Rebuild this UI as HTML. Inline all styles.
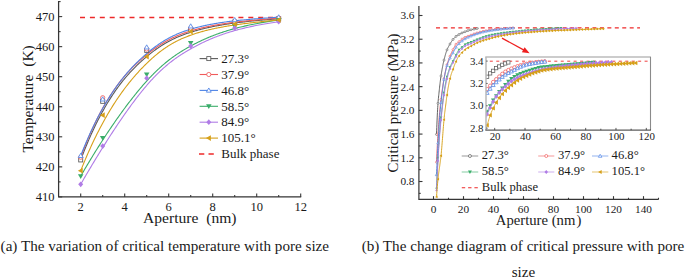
<!DOCTYPE html>
<html><head><meta charset="utf-8"><style>
html,body{margin:0;padding:0;background:#fff;width:685px;height:279px;overflow:hidden}
svg{display:block}
text{font-family:"Liberation Serif", serif;}
</style></head><body>
<svg width="685" height="279" viewBox="0 0 685 279" font-family='"Liberation Serif", serif' fill="#1a1a1a">
<rect width="685" height="279" fill="#fff"/>
<line x1="80" y1="17.5" x2="280" y2="17.5" stroke="#ee2a2a" stroke-width="1.3" stroke-dasharray="5 4.9"/>
<path d="M80.7 159.94 L81.53 157.75 L82.36 155.59 L83.19 153.46 L84.01 151.36 L84.84 149.29 L85.67 147.25 L86.5 145.25 L87.32 143.27 L88.15 141.32 L88.98 139.39 L89.8 137.5 L90.63 135.64 L91.45 133.8 L92.28 131.99 L93.1 130.21 L93.93 128.46 L94.75 126.73 L95.57 125.03 L96.39 123.35 L97.21 121.7 L98.03 120.08 L98.85 118.48 L99.67 116.91 L100.48 115.36 L101.3 113.84 L102.11 112.34 L102.93 110.87 L103.74 109.42 L104.55 107.99 L105.36 106.58 L106.17 105.2 L106.97 103.84 L107.78 102.51 L108.58 101.19 L109.38 99.9 L110.19 98.63 L110.99 97.38 L111.78 96.15 L112.58 94.94 L113.37 93.75 L114.17 92.58 L114.96 91.43 L115.75 90.3 L116.53 89.19 L117.32 88.1 L118.1 87.02 L118.88 85.97 L119.66 84.93 L120.44 83.91 L121.22 82.91 L121.99 81.93 L122.76 80.96 L123.53 80.01 L124.29 79.07 L125.06 78.15 L125.82 77.25 L126.58 76.36 L127.34 75.49 L128.09 74.63 L128.84 73.79 L129.59 72.96 L130.34 72.14 L131.08 71.34 L131.82 70.55 L132.56 69.78 L133.29 69.02 L134.03 68.27 L134.75 67.53 L135.48 66.81 L136.2 66.09 L136.92 65.39 L137.64 64.7 L138.36 64.02 L139.07 63.35 L139.77 62.69 L140.48 62.04 L141.18 61.41 L141.88 60.78 L142.57 60.16 L143.26 59.54 L143.95 58.94 L144.63 58.35 L145.32 57.76 L145.99 57.18 L146.67 56.61 L147.34 56.05 L148.01 55.5 L148.67 54.96 L149.34 54.42 L150 53.89 L150.66 53.37 L151.31 52.85 L151.96 52.35 L152.62 51.85 L153.26 51.36 L153.91 50.88 L154.55 50.4 L155.2 49.93 L155.84 49.47 L156.48 49.01 L157.11 48.56 L157.75 48.12 L158.38 47.69 L159.02 47.26 L159.65 46.84 L160.28 46.42 L160.9 46.01 L161.53 45.61 L162.16 45.21 L162.78 44.82 L163.41 44.43 L164.03 44.06 L164.66 43.68 L165.28 43.31 L165.9 42.95 L166.52 42.6 L167.15 42.25 L167.77 41.9 L168.39 41.56 L169.01 41.22 L169.63 40.89 L170.25 40.57 L170.88 40.25 L171.5 39.93 L172.12 39.62 L172.74 39.32 L173.37 39.01 L173.99 38.72 L174.62 38.42 L175.24 38.14 L175.87 37.85 L176.5 37.57 L177.12 37.29 L177.75 37.02 L178.38 36.75 L179.02 36.49 L179.65 36.23 L180.29 35.97 L180.92 35.72 L181.56 35.46 L182.2 35.22 L182.85 34.97 L183.49 34.73 L184.14 34.49 L184.78 34.26 L185.44 34.02 L186.09 33.79 L186.74 33.57 L187.4 33.34 L188.06 33.12 L188.73 32.9 L189.39 32.68 L190.06 32.47 L190.73 32.25 L191.41 32.04 L192.08 31.83 L192.77 31.63 L193.45 31.42 L194.14 31.22 L194.83 31.01 L195.52 30.81 L196.22 30.61 L196.92 30.42 L197.63 30.22 L198.34 30.02 L199.06 29.83 L199.78 29.64 L200.5 29.45 L201.24 29.26 L201.97 29.07 L202.71 28.88 L203.46 28.7 L204.22 28.52 L204.98 28.33 L205.75 28.15 L206.52 27.97 L207.3 27.79 L208.09 27.62 L208.89 27.44 L209.69 27.27 L210.51 27.09 L211.33 26.92 L212.16 26.75 L212.99 26.58 L213.84 26.41 L214.7 26.25 L215.56 26.08 L216.44 25.91 L217.32 25.75 L218.21 25.59 L219.12 25.43 L220.03 25.27 L220.96 25.11 L221.89 24.95 L222.84 24.79 L223.8 24.63 L224.77 24.48 L225.75 24.33 L226.74 24.17 L227.75 24.02 L228.76 23.87 L229.79 23.72 L230.84 23.57 L231.89 23.42 L232.96 23.27 L234.04 23.13 L235.14 22.98 L236.25 22.84 L237.37 22.69 L238.51 22.55 L239.66 22.41 L240.83 22.27 L242.01 22.12 L243.21 21.98 L244.42 21.85 L245.65 21.71 L246.9 21.57 L248.16 21.43 L249.43 21.3 L250.72 21.16 L252.03 21.03 L253.36 20.89 L254.7 20.76 L256.06 20.63 L257.44 20.49 L258.84 20.36 L260.25 20.23 L261.68 20.1 L263.13 19.97 L264.6 19.84 L266.09 19.71 L267.6 19.59 L269.13 19.46 L270.67 19.33 L272.24 19.2 L273.82 19.08 L275.43 18.95 L277.05 18.83 L278.7 18.7" fill="none" stroke="#5a5a5a" stroke-width="1.1"/>
<path d="M80.7 157.23 L81.53 155.01 L82.36 152.82 L83.19 150.66 L84.01 148.53 L84.84 146.44 L85.67 144.38 L86.5 142.35 L87.32 140.35 L88.15 138.38 L88.98 136.44 L89.8 134.53 L90.63 132.65 L91.45 130.8 L92.28 128.98 L93.1 127.19 L93.93 125.43 L94.75 123.69 L95.57 121.98 L96.39 120.3 L97.21 118.65 L98.03 117.03 L98.85 115.43 L99.67 113.86 L100.48 112.31 L101.3 110.79 L102.11 109.29 L102.93 107.82 L103.74 106.38 L104.55 104.96 L105.36 103.56 L106.17 102.19 L106.97 100.84 L107.78 99.51 L108.58 98.21 L109.38 96.93 L110.19 95.67 L110.99 94.43 L111.78 93.22 L112.58 92.02 L113.37 90.85 L114.17 89.7 L114.96 88.56 L115.75 87.45 L116.53 86.36 L117.32 85.29 L118.1 84.23 L118.88 83.2 L119.66 82.18 L120.44 81.18 L121.22 80.2 L121.99 79.24 L122.76 78.29 L123.53 77.37 L124.29 76.45 L125.06 75.56 L125.82 74.68 L126.58 73.81 L127.34 72.96 L128.09 72.13 L128.84 71.31 L129.59 70.51 L130.34 69.71 L131.08 68.94 L131.82 68.17 L132.56 67.42 L133.29 66.68 L134.03 65.96 L134.75 65.25 L135.48 64.54 L136.2 63.85 L136.92 63.18 L137.64 62.51 L138.36 61.85 L139.07 61.2 L139.77 60.57 L140.48 59.94 L141.18 59.32 L141.88 58.71 L142.57 58.11 L143.26 57.52 L143.95 56.94 L144.63 56.36 L145.32 55.8 L145.99 55.24 L146.67 54.68 L147.34 54.14 L148.01 53.6 L148.67 53.08 L149.34 52.55 L150 52.04 L150.66 51.53 L151.31 51.04 L151.96 50.54 L152.62 50.06 L153.26 49.58 L153.91 49.11 L154.55 48.65 L155.2 48.19 L155.84 47.74 L156.48 47.3 L157.11 46.86 L157.75 46.43 L158.38 46 L159.02 45.59 L159.65 45.17 L160.28 44.77 L160.9 44.37 L161.53 43.97 L162.16 43.59 L162.78 43.2 L163.41 42.83 L164.03 42.46 L164.66 42.09 L165.28 41.73 L165.9 41.38 L166.52 41.03 L167.15 40.69 L167.77 40.35 L168.39 40.02 L169.01 39.69 L169.63 39.36 L170.25 39.05 L170.88 38.73 L171.5 38.42 L172.12 38.12 L172.74 37.82 L173.37 37.52 L173.99 37.23 L174.62 36.95 L175.24 36.66 L175.87 36.39 L176.5 36.11 L177.12 35.84 L177.75 35.57 L178.38 35.31 L179.02 35.05 L179.65 34.8 L180.29 34.55 L180.92 34.3 L181.56 34.05 L182.2 33.81 L182.85 33.57 L183.49 33.34 L184.14 33.11 L184.78 32.88 L185.44 32.65 L186.09 32.43 L186.74 32.21 L187.4 31.99 L188.06 31.77 L188.73 31.56 L189.39 31.35 L190.06 31.14 L190.73 30.94 L191.41 30.73 L192.08 30.53 L192.77 30.33 L193.45 30.13 L194.14 29.94 L194.83 29.74 L195.52 29.55 L196.22 29.36 L196.92 29.17 L197.63 28.98 L198.34 28.8 L199.06 28.61 L199.78 28.43 L200.5 28.25 L201.24 28.07 L201.97 27.9 L202.71 27.72 L203.46 27.54 L204.22 27.37 L204.98 27.2 L205.75 27.03 L206.52 26.86 L207.3 26.69 L208.09 26.53 L208.89 26.36 L209.69 26.2 L210.51 26.04 L211.33 25.88 L212.16 25.72 L212.99 25.56 L213.84 25.4 L214.7 25.25 L215.56 25.09 L216.44 24.94 L217.32 24.78 L218.21 24.63 L219.12 24.48 L220.03 24.33 L220.96 24.19 L221.89 24.04 L222.84 23.89 L223.8 23.75 L224.77 23.6 L225.75 23.46 L226.74 23.32 L227.75 23.17 L228.76 23.03 L229.79 22.89 L230.84 22.75 L231.89 22.62 L232.96 22.48 L234.04 22.34 L235.14 22.21 L236.25 22.07 L237.37 21.94 L238.51 21.8 L239.66 21.67 L240.83 21.54 L242.01 21.4 L243.21 21.27 L244.42 21.14 L245.65 21.01 L246.9 20.88 L248.16 20.75 L249.43 20.62 L250.72 20.49 L252.03 20.36 L253.36 20.24 L254.7 20.11 L256.06 19.98 L257.44 19.86 L258.84 19.73 L260.25 19.6 L261.68 19.48 L263.13 19.35 L264.6 19.23 L266.09 19.1 L267.6 18.98 L269.13 18.85 L270.67 18.73 L272.24 18.6 L273.82 18.48 L275.43 18.35 L277.05 18.23 L278.7 18.1" fill="none" stroke="#f05a5a" stroke-width="1.1"/>
<path d="M80.7 155.73 L81.53 153.62 L82.36 151.53 L83.19 149.48 L84.01 147.45 L84.84 145.45 L85.67 143.48 L86.5 141.53 L87.32 139.61 L88.15 137.72 L88.98 135.86 L89.8 134.02 L90.63 132.21 L91.45 130.42 L92.28 128.66 L93.1 126.92 L93.93 125.21 L94.75 123.53 L95.57 121.87 L96.39 120.23 L97.21 118.62 L98.03 117.03 L98.85 115.46 L99.67 113.92 L100.48 112.4 L101.3 110.91 L102.11 109.44 L102.93 107.98 L103.74 106.56 L104.55 105.15 L105.36 103.76 L106.17 102.4 L106.97 101.06 L107.78 99.73 L108.58 98.43 L109.38 97.15 L110.19 95.89 L110.99 94.65 L111.78 93.43 L112.58 92.23 L113.37 91.04 L114.17 89.88 L114.96 88.73 L115.75 87.61 L116.53 86.5 L117.32 85.41 L118.1 84.33 L118.88 83.28 L119.66 82.24 L120.44 81.22 L121.22 80.21 L121.99 79.22 L122.76 78.25 L123.53 77.29 L124.29 76.35 L125.06 75.42 L125.82 74.51 L126.58 73.62 L127.34 72.73 L128.09 71.87 L128.84 71.01 L129.59 70.18 L130.34 69.35 L131.08 68.54 L131.82 67.74 L132.56 66.95 L133.29 66.18 L134.03 65.42 L134.75 64.67 L135.48 63.93 L136.2 63.21 L136.92 62.49 L137.64 61.79 L138.36 61.1 L139.07 60.41 L139.77 59.74 L140.48 59.08 L141.18 58.43 L141.88 57.79 L142.57 57.16 L143.26 56.54 L143.95 55.92 L144.63 55.32 L145.32 54.72 L145.99 54.13 L146.67 53.55 L147.34 52.98 L148.01 52.42 L148.67 51.87 L149.34 51.32 L150 50.78 L150.66 50.25 L151.31 49.73 L151.96 49.22 L152.62 48.71 L153.26 48.21 L153.91 47.72 L154.55 47.24 L155.2 46.76 L155.84 46.3 L156.48 45.84 L157.11 45.38 L157.75 44.93 L158.38 44.49 L159.02 44.06 L159.65 43.63 L160.28 43.22 L160.9 42.8 L161.53 42.4 L162.16 42 L162.78 41.6 L163.41 41.21 L164.03 40.83 L164.66 40.46 L165.28 40.09 L165.9 39.73 L166.52 39.37 L167.15 39.02 L167.77 38.67 L168.39 38.33 L169.01 37.99 L169.63 37.66 L170.25 37.34 L170.88 37.02 L171.5 36.71 L172.12 36.4 L172.74 36.09 L173.37 35.79 L173.99 35.5 L174.62 35.21 L175.24 34.92 L175.87 34.64 L176.5 34.36 L177.12 34.09 L177.75 33.82 L178.38 33.56 L179.02 33.3 L179.65 33.04 L180.29 32.79 L180.92 32.54 L181.56 32.29 L182.2 32.05 L182.85 31.81 L183.49 31.58 L184.14 31.35 L184.78 31.12 L185.44 30.89 L186.09 30.67 L186.74 30.45 L187.4 30.24 L188.06 30.02 L188.73 29.81 L189.39 29.6 L190.06 29.4 L190.73 29.19 L191.41 28.99 L192.08 28.79 L192.77 28.6 L193.45 28.4 L194.14 28.21 L194.83 28.02 L195.52 27.83 L196.22 27.64 L196.92 27.45 L197.63 27.27 L198.34 27.09 L199.06 26.91 L199.78 26.73 L200.5 26.55 L201.24 26.38 L201.97 26.2 L202.71 26.03 L203.46 25.86 L204.22 25.69 L204.98 25.52 L205.75 25.36 L206.52 25.19 L207.3 25.03 L208.09 24.87 L208.89 24.71 L209.69 24.55 L210.51 24.39 L211.33 24.24 L212.16 24.09 L212.99 23.93 L213.84 23.78 L214.7 23.63 L215.56 23.48 L216.44 23.34 L217.32 23.19 L218.21 23.05 L219.12 22.9 L220.03 22.76 L220.96 22.62 L221.89 22.48 L222.84 22.34 L223.8 22.21 L224.77 22.07 L225.75 21.94 L226.74 21.8 L227.75 21.67 L228.76 21.54 L229.79 21.41 L230.84 21.28 L231.89 21.15 L232.96 21.02 L234.04 20.9 L235.14 20.77 L236.25 20.65 L237.37 20.53 L238.51 20.4 L239.66 20.28 L240.83 20.16 L242.01 20.04 L243.21 19.93 L244.42 19.81 L245.65 19.69 L246.9 19.58 L248.16 19.46 L249.43 19.35 L250.72 19.23 L252.03 19.12 L253.36 19.01 L254.7 18.9 L256.06 18.79 L257.44 18.68 L258.84 18.57 L260.25 18.46 L261.68 18.35 L263.13 18.24 L264.6 18.14 L266.09 18.03 L267.6 17.93 L269.13 17.82 L270.67 17.72 L272.24 17.61 L273.82 17.51 L275.43 17.41 L277.05 17.3 L278.7 17.2" fill="none" stroke="#4f84e6" stroke-width="1.1"/>
<path d="M80.7 176.17 L81.53 174.73 L82.36 173.3 L83.19 171.88 L84.01 170.47 L84.84 169.06 L85.67 167.65 L86.5 166.26 L87.32 164.87 L88.15 163.48 L88.98 162.11 L89.8 160.74 L90.63 159.37 L91.45 158.02 L92.28 156.67 L93.1 155.32 L93.93 153.99 L94.75 152.66 L95.57 151.33 L96.39 150.02 L97.21 148.71 L98.03 147.41 L98.85 146.11 L99.67 144.83 L100.48 143.55 L101.3 142.27 L102.11 141.01 L102.93 139.75 L103.74 138.5 L104.55 137.26 L105.36 136.02 L106.17 134.79 L106.97 133.57 L107.78 132.36 L108.58 131.15 L109.38 129.96 L110.19 128.77 L110.99 127.59 L111.78 126.41 L112.58 125.25 L113.37 124.09 L114.17 122.94 L114.96 121.8 L115.75 120.67 L116.53 119.54 L117.32 118.42 L118.1 117.32 L118.88 116.22 L119.66 115.12 L120.44 114.04 L121.22 112.97 L121.99 111.9 L122.76 110.84 L123.53 109.79 L124.29 108.75 L125.06 107.72 L125.82 106.7 L126.58 105.69 L127.34 104.68 L128.09 103.68 L128.84 102.7 L129.59 101.72 L130.34 100.75 L131.08 99.79 L131.82 98.84 L132.56 97.9 L133.29 96.97 L134.03 96.05 L134.75 95.13 L135.48 94.23 L136.2 93.33 L136.92 92.45 L137.64 91.57 L138.36 90.71 L139.07 89.85 L139.77 89.01 L140.48 88.17 L141.18 87.34 L141.88 86.53 L142.57 85.72 L143.26 84.92 L143.95 84.14 L144.63 83.36 L145.32 82.59 L145.99 81.84 L146.67 81.09 L147.34 80.35 L148.01 79.62 L148.67 78.9 L149.34 78.19 L150 77.49 L150.66 76.8 L151.31 76.11 L151.96 75.44 L152.62 74.77 L153.26 74.11 L153.91 73.46 L154.55 72.82 L155.2 72.18 L155.84 71.56 L156.48 70.94 L157.11 70.33 L157.75 69.72 L158.38 69.13 L159.02 68.54 L159.65 67.96 L160.28 67.38 L160.9 66.82 L161.53 66.26 L162.16 65.7 L162.78 65.16 L163.41 64.62 L164.03 64.08 L164.66 63.56 L165.28 63.03 L165.9 62.52 L166.52 62.01 L167.15 61.51 L167.77 61.01 L168.39 60.52 L169.01 60.03 L169.63 59.55 L170.25 59.08 L170.88 58.61 L171.5 58.14 L172.12 57.68 L172.74 57.23 L173.37 56.78 L173.99 56.33 L174.62 55.89 L175.24 55.46 L175.87 55.02 L176.5 54.6 L177.12 54.17 L177.75 53.75 L178.38 53.34 L179.02 52.92 L179.65 52.51 L180.29 52.11 L180.92 51.71 L181.56 51.31 L182.2 50.91 L182.85 50.52 L183.49 50.13 L184.14 49.75 L184.78 49.36 L185.44 48.98 L186.09 48.6 L186.74 48.23 L187.4 47.85 L188.06 47.48 L188.73 47.11 L189.39 46.74 L190.06 46.38 L190.73 46.01 L191.41 45.65 L192.08 45.29 L192.77 44.93 L193.45 44.57 L194.14 44.21 L194.83 43.86 L195.52 43.5 L196.22 43.15 L196.92 42.8 L197.63 42.44 L198.34 42.09 L199.06 41.74 L199.78 41.39 L200.5 41.05 L201.24 40.7 L201.97 40.35 L202.71 40.01 L203.46 39.66 L204.22 39.32 L204.98 38.98 L205.75 38.64 L206.52 38.3 L207.3 37.97 L208.09 37.63 L208.89 37.29 L209.69 36.96 L210.51 36.63 L211.33 36.3 L212.16 35.97 L212.99 35.64 L213.84 35.31 L214.7 34.98 L215.56 34.66 L216.44 34.34 L217.32 34.01 L218.21 33.69 L219.12 33.37 L220.03 33.05 L220.96 32.74 L221.89 32.42 L222.84 32.11 L223.8 31.8 L224.77 31.49 L225.75 31.18 L226.74 30.87 L227.75 30.56 L228.76 30.26 L229.79 29.95 L230.84 29.65 L231.89 29.35 L232.96 29.05 L234.04 28.76 L235.14 28.46 L236.25 28.17 L237.37 27.87 L238.51 27.58 L239.66 27.29 L240.83 27.01 L242.01 26.72 L243.21 26.44 L244.42 26.15 L245.65 25.87 L246.9 25.59 L248.16 25.32 L249.43 25.04 L250.72 24.77 L252.03 24.49 L253.36 24.22 L254.7 23.95 L256.06 23.69 L257.44 23.42 L258.84 23.16 L260.25 22.9 L261.68 22.64 L263.13 22.38 L264.6 22.12 L266.09 21.87 L267.6 21.62 L269.13 21.37 L270.67 21.12 L272.24 20.87 L273.82 20.63 L275.43 20.38 L277.05 20.14 L278.7 19.91" fill="none" stroke="#3aad6a" stroke-width="1.1"/>
<path d="M80.7 184.28 L81.53 182.84 L82.36 181.41 L83.19 179.99 L84.01 178.56 L84.84 177.14 L85.67 175.73 L86.5 174.32 L87.32 172.92 L88.15 171.52 L88.98 170.12 L89.8 168.73 L90.63 167.35 L91.45 165.96 L92.28 164.59 L93.1 163.22 L93.93 161.85 L94.75 160.49 L95.57 159.14 L96.39 157.79 L97.21 156.45 L98.03 155.11 L98.85 153.78 L99.67 152.46 L100.48 151.14 L101.3 149.82 L102.11 148.52 L102.93 147.21 L103.74 145.92 L104.55 144.63 L105.36 143.35 L106.17 142.08 L106.97 140.81 L107.78 139.55 L108.58 138.29 L109.38 137.04 L110.19 135.8 L110.99 134.57 L111.78 133.34 L112.58 132.13 L113.37 130.91 L114.17 129.71 L114.96 128.51 L115.75 127.33 L116.53 126.14 L117.32 124.97 L118.1 123.81 L118.88 122.65 L119.66 121.5 L120.44 120.36 L121.22 119.23 L121.99 118.1 L122.76 116.99 L123.53 115.88 L124.29 114.78 L125.06 113.69 L125.82 112.61 L126.58 111.54 L127.34 110.48 L128.09 109.42 L128.84 108.38 L129.59 107.34 L130.34 106.32 L131.08 105.3 L131.82 104.29 L132.56 103.29 L133.29 102.31 L134.03 101.33 L134.75 100.36 L135.48 99.4 L136.2 98.45 L136.92 97.51 L137.64 96.59 L138.36 95.67 L139.07 94.76 L139.77 93.87 L140.48 92.98 L141.18 92.1 L141.88 91.24 L142.57 90.39 L143.26 89.54 L143.95 88.71 L144.63 87.89 L145.32 87.08 L145.99 86.28 L146.67 85.49 L147.34 84.71 L148.01 83.94 L148.67 83.18 L149.34 82.43 L150 81.69 L150.66 80.96 L151.31 80.24 L151.96 79.53 L152.62 78.83 L153.26 78.14 L153.91 77.46 L154.55 76.78 L155.2 76.12 L155.84 75.46 L156.48 74.81 L157.11 74.17 L157.75 73.54 L158.38 72.91 L159.02 72.3 L159.65 71.69 L160.28 71.09 L160.9 70.5 L161.53 69.91 L162.16 69.34 L162.78 68.77 L163.41 68.2 L164.03 67.65 L164.66 67.1 L165.28 66.55 L165.9 66.02 L166.52 65.49 L167.15 64.97 L167.77 64.45 L168.39 63.94 L169.01 63.43 L169.63 62.93 L170.25 62.44 L170.88 61.95 L171.5 61.47 L172.12 60.99 L172.74 60.52 L173.37 60.05 L173.99 59.59 L174.62 59.14 L175.24 58.68 L175.87 58.23 L176.5 57.79 L177.12 57.35 L177.75 56.92 L178.38 56.49 L179.02 56.06 L179.65 55.64 L180.29 55.22 L180.92 54.8 L181.56 54.39 L182.2 53.98 L182.85 53.57 L183.49 53.17 L184.14 52.77 L184.78 52.37 L185.44 51.98 L186.09 51.58 L186.74 51.19 L187.4 50.81 L188.06 50.42 L188.73 50.04 L189.39 49.66 L190.06 49.28 L190.73 48.9 L191.41 48.52 L192.08 48.14 L192.77 47.77 L193.45 47.4 L194.14 47.02 L194.83 46.65 L195.52 46.28 L196.22 45.91 L196.92 45.54 L197.63 45.18 L198.34 44.81 L199.06 44.44 L199.78 44.08 L200.5 43.71 L201.24 43.35 L201.97 42.99 L202.71 42.63 L203.46 42.27 L204.22 41.91 L204.98 41.55 L205.75 41.19 L206.52 40.84 L207.3 40.48 L208.09 40.13 L208.89 39.78 L209.69 39.43 L210.51 39.08 L211.33 38.73 L212.16 38.38 L212.99 38.04 L213.84 37.69 L214.7 37.35 L215.56 37.01 L216.44 36.67 L217.32 36.33 L218.21 35.99 L219.12 35.65 L220.03 35.32 L220.96 34.99 L221.89 34.66 L222.84 34.33 L223.8 34 L224.77 33.67 L225.75 33.35 L226.74 33.02 L227.75 32.7 L228.76 32.38 L229.79 32.07 L230.84 31.75 L231.89 31.43 L232.96 31.12 L234.04 30.81 L235.14 30.5 L236.25 30.19 L237.37 29.89 L238.51 29.59 L239.66 29.28 L240.83 28.98 L242.01 28.69 L243.21 28.39 L244.42 28.1 L245.65 27.81 L246.9 27.52 L248.16 27.23 L249.43 26.94 L250.72 26.66 L252.03 26.38 L253.36 26.1 L254.7 25.82 L256.06 25.55 L257.44 25.28 L258.84 25.01 L260.25 24.74 L261.68 24.47 L263.13 24.21 L264.6 23.95 L266.09 23.69 L267.6 23.43 L269.13 23.18 L270.67 22.93 L272.24 22.68 L273.82 22.43 L275.43 22.19 L277.05 21.95 L278.7 21.71" fill="none" stroke="#b07ce6" stroke-width="1.1"/>
<path d="M80.7 170.76 L81.53 168.68 L82.36 166.62 L83.19 164.59 L84.01 162.58 L84.84 160.6 L85.67 158.64 L86.5 156.7 L87.32 154.79 L88.15 152.9 L88.98 151.03 L89.8 149.19 L90.63 147.37 L91.45 145.57 L92.28 143.8 L93.1 142.05 L93.93 140.32 L94.75 138.61 L95.57 136.92 L96.39 135.25 L97.21 133.61 L98.03 131.99 L98.85 130.38 L99.67 128.8 L100.48 127.24 L101.3 125.7 L102.11 124.18 L102.93 122.68 L103.74 121.2 L104.55 119.74 L105.36 118.3 L106.17 116.87 L106.97 115.47 L107.78 114.08 L108.58 112.72 L109.38 111.37 L110.19 110.04 L110.99 108.73 L111.78 107.44 L112.58 106.16 L113.37 104.9 L114.17 103.66 L114.96 102.44 L115.75 101.23 L116.53 100.04 L117.32 98.87 L118.1 97.72 L118.88 96.57 L119.66 95.45 L120.44 94.34 L121.22 93.25 L121.99 92.17 L122.76 91.11 L123.53 90.06 L124.29 89.03 L125.06 88.01 L125.82 87.01 L126.58 86.02 L127.34 85.05 L128.09 84.09 L128.84 83.14 L129.59 82.21 L130.34 81.29 L131.08 80.38 L131.82 79.49 L132.56 78.61 L133.29 77.74 L134.03 76.89 L134.75 76.05 L135.48 75.22 L136.2 74.4 L136.92 73.59 L137.64 72.79 L138.36 72.01 L139.07 71.24 L139.77 70.48 L140.48 69.72 L141.18 68.98 L141.88 68.25 L142.57 67.53 L143.26 66.82 L143.95 66.12 L144.63 65.43 L145.32 64.75 L145.99 64.08 L146.67 63.42 L147.34 62.77 L148.01 62.13 L148.67 61.49 L149.34 60.87 L150 60.25 L150.66 59.65 L151.31 59.05 L151.96 58.46 L152.62 57.88 L153.26 57.31 L153.91 56.74 L154.55 56.19 L155.2 55.64 L155.84 55.1 L156.48 54.57 L157.11 54.05 L157.75 53.54 L158.38 53.03 L159.02 52.53 L159.65 52.04 L160.28 51.55 L160.9 51.08 L161.53 50.61 L162.16 50.14 L162.78 49.69 L163.41 49.24 L164.03 48.8 L164.66 48.36 L165.28 47.93 L165.9 47.51 L166.52 47.1 L167.15 46.69 L167.77 46.28 L168.39 45.89 L169.01 45.5 L169.63 45.11 L170.25 44.73 L170.88 44.36 L171.5 44 L172.12 43.63 L172.74 43.28 L173.37 42.93 L173.99 42.58 L174.62 42.24 L175.24 41.91 L175.87 41.58 L176.5 41.25 L177.12 40.93 L177.75 40.62 L178.38 40.31 L179.02 40 L179.65 39.7 L180.29 39.4 L180.92 39.11 L181.56 38.82 L182.2 38.53 L182.85 38.25 L183.49 37.97 L184.14 37.7 L184.78 37.43 L185.44 37.16 L186.09 36.9 L186.74 36.64 L187.4 36.39 L188.06 36.13 L188.73 35.88 L189.39 35.63 L190.06 35.39 L190.73 35.15 L191.41 34.91 L192.08 34.67 L192.77 34.44 L193.45 34.21 L194.14 33.98 L194.83 33.75 L195.52 33.53 L196.22 33.31 L196.92 33.08 L197.63 32.87 L198.34 32.65 L199.06 32.43 L199.78 32.22 L200.5 32.01 L201.24 31.8 L201.97 31.6 L202.71 31.39 L203.46 31.19 L204.22 30.99 L204.98 30.79 L205.75 30.59 L206.52 30.39 L207.3 30.2 L208.09 30 L208.89 29.81 L209.69 29.62 L210.51 29.43 L211.33 29.24 L212.16 29.06 L212.99 28.87 L213.84 28.69 L214.7 28.51 L215.56 28.33 L216.44 28.15 L217.32 27.97 L218.21 27.79 L219.12 27.62 L220.03 27.44 L220.96 27.27 L221.89 27.09 L222.84 26.92 L223.8 26.75 L224.77 26.58 L225.75 26.41 L226.74 26.25 L227.75 26.08 L228.76 25.91 L229.79 25.75 L230.84 25.58 L231.89 25.42 L232.96 25.26 L234.04 25.1 L235.14 24.93 L236.25 24.77 L237.37 24.61 L238.51 24.45 L239.66 24.29 L240.83 24.13 L242.01 23.98 L243.21 23.82 L244.42 23.66 L245.65 23.5 L246.9 23.35 L248.16 23.19 L249.43 23.03 L250.72 22.88 L252.03 22.72 L253.36 22.56 L254.7 22.41 L256.06 22.25 L257.44 22.1 L258.84 21.94 L260.25 21.79 L261.68 21.63 L263.13 21.47 L264.6 21.32 L266.09 21.16 L267.6 21.01 L269.13 20.85 L270.67 20.69 L272.24 20.54 L273.82 20.38 L275.43 20.22 L277.05 20.06 L278.7 19.91" fill="none" stroke="#d6a019" stroke-width="1.1"/>
<rect x="78.7" y="157.94" width="4" height="4" fill="#fff" stroke="#5a5a5a" stroke-width="0.85"/>
<rect x="100.7" y="99.34" width="4" height="4" fill="#fff" stroke="#5a5a5a" stroke-width="0.85"/>
<rect x="144.7" y="48.56" width="4" height="4" fill="#fff" stroke="#5a5a5a" stroke-width="0.85"/>
<rect x="188.7" y="27.52" width="4" height="4" fill="#fff" stroke="#5a5a5a" stroke-width="0.85"/>
<rect x="232.7" y="20.01" width="4" height="4" fill="#fff" stroke="#5a5a5a" stroke-width="0.85"/>
<rect x="276.7" y="16.7" width="4" height="4" fill="#fff" stroke="#5a5a5a" stroke-width="0.85"/>
<circle cx="80.7" cy="157.23" r="2.1" fill="#fff" stroke="#f05a5a" stroke-width="0.85"/>
<circle cx="102.7" cy="97.73" r="2.1" fill="#fff" stroke="#f05a5a" stroke-width="0.85"/>
<circle cx="146.7" cy="49.05" r="2.1" fill="#fff" stroke="#f05a5a" stroke-width="0.85"/>
<circle cx="190.7" cy="28.02" r="2.1" fill="#fff" stroke="#f05a5a" stroke-width="0.85"/>
<circle cx="234.7" cy="21.41" r="2.1" fill="#fff" stroke="#f05a5a" stroke-width="0.85"/>
<circle cx="278.7" cy="18.1" r="2.1" fill="#fff" stroke="#f05a5a" stroke-width="0.85"/>
<path d="M80.7 153.31L83.12 157.49L78.28 157.49Z" fill="#fff" stroke="#4f84e6" stroke-width="0.85"/>
<path d="M102.7 96.82L105.12 101L100.28 101Z" fill="#fff" stroke="#4f84e6" stroke-width="0.85"/>
<path d="M146.7 44.83L149.12 49.01L144.28 49.01Z" fill="#fff" stroke="#4f84e6" stroke-width="0.85"/>
<path d="M190.7 23.8L193.12 27.98L188.28 27.98Z" fill="#fff" stroke="#4f84e6" stroke-width="0.85"/>
<path d="M234.7 17.49L237.12 21.67L232.28 21.67Z" fill="#fff" stroke="#4f84e6" stroke-width="0.85"/>
<path d="M278.7 14.78L281.12 18.96L276.28 18.96Z" fill="#fff" stroke="#4f84e6" stroke-width="0.85"/>
<path d="M80.7 178.92L83.45 174.17L77.95 174.17Z" fill="#3aad6a"/>
<path d="M102.7 140.75L105.45 136L99.95 136Z" fill="#3aad6a"/>
<path d="M146.7 77.35L149.45 72.6L143.95 72.6Z" fill="#3aad6a"/>
<path d="M190.7 45.79L193.45 41.04L187.95 41.04Z" fill="#3aad6a"/>
<path d="M234.7 28.97L237.45 24.22L231.95 24.22Z" fill="#3aad6a"/>
<path d="M278.7 22.66L281.45 17.91L275.95 17.91Z" fill="#3aad6a"/>
<path d="M80.7 181.4L83.2 184.28L80.7 187.15L78.2 184.28Z" fill="#b07ce6"/>
<path d="M102.7 143.24L105.2 146.12L102.7 148.99L100.2 146.12Z" fill="#b07ce6"/>
<path d="M146.7 75.33L149.2 78.2L146.7 81.08L144.2 78.2Z" fill="#b07ce6"/>
<path d="M190.7 43.17L193.2 46.05L190.7 48.92L188.2 46.05Z" fill="#b07ce6"/>
<path d="M234.7 25.14L237.2 28.02L234.7 30.89L232.2 28.02Z" fill="#b07ce6"/>
<path d="M278.7 18.83L281.2 21.71L278.7 24.58L276.2 21.71Z" fill="#b07ce6"/>
<path d="M77.84 170.76L82.78 167.9L82.78 173.62Z" fill="#d6a019"/>
<path d="M99.84 115.16L104.78 112.3L104.78 118.02Z" fill="#d6a019"/>
<path d="M143.84 56.57L148.78 53.71L148.78 59.43Z" fill="#d6a019"/>
<path d="M187.84 31.62L192.78 28.77L192.78 34.48Z" fill="#d6a019"/>
<path d="M231.84 24.11L236.78 21.25L236.78 26.97Z" fill="#d6a019"/>
<path d="M275.84 19.91L280.78 17.05L280.78 22.77Z" fill="#d6a019"/>
<path d="M58.6 1 V196.9 H301.2" fill="none" stroke="#353535" stroke-width="1.25"/>
<line x1="58.6" y1="196.9" x2="62.2" y2="196.9" stroke="#383838" stroke-width="1.1"/>
<text x="54.6" y="201.2" text-anchor="end" font-size="12.5">410</text>
<line x1="58.6" y1="181.88" x2="60.6" y2="181.88" stroke="#383838" stroke-width="1.1"/>
<line x1="58.6" y1="166.85" x2="62.2" y2="166.85" stroke="#383838" stroke-width="1.1"/>
<text x="54.6" y="171.15" text-anchor="end" font-size="12.5">420</text>
<line x1="58.6" y1="151.82" x2="60.6" y2="151.82" stroke="#383838" stroke-width="1.1"/>
<line x1="58.6" y1="136.8" x2="62.2" y2="136.8" stroke="#383838" stroke-width="1.1"/>
<text x="54.6" y="141.1" text-anchor="end" font-size="12.5">430</text>
<line x1="58.6" y1="121.78" x2="60.6" y2="121.78" stroke="#383838" stroke-width="1.1"/>
<line x1="58.6" y1="106.75" x2="62.2" y2="106.75" stroke="#383838" stroke-width="1.1"/>
<text x="54.6" y="111.05" text-anchor="end" font-size="12.5">440</text>
<line x1="58.6" y1="91.72" x2="60.6" y2="91.72" stroke="#383838" stroke-width="1.1"/>
<line x1="58.6" y1="76.7" x2="62.2" y2="76.7" stroke="#383838" stroke-width="1.1"/>
<text x="54.6" y="81" text-anchor="end" font-size="12.5">450</text>
<line x1="58.6" y1="61.67" x2="60.6" y2="61.67" stroke="#383838" stroke-width="1.1"/>
<line x1="58.6" y1="46.65" x2="62.2" y2="46.65" stroke="#383838" stroke-width="1.1"/>
<text x="54.6" y="50.95" text-anchor="end" font-size="12.5">460</text>
<line x1="58.6" y1="31.62" x2="60.6" y2="31.62" stroke="#383838" stroke-width="1.1"/>
<line x1="58.6" y1="16.6" x2="62.2" y2="16.6" stroke="#383838" stroke-width="1.1"/>
<text x="54.6" y="20.9" text-anchor="end" font-size="12.5">470</text>
<line x1="58.6" y1="1.58" x2="60.6" y2="1.58" stroke="#383838" stroke-width="1.1"/>
<line x1="80.7" y1="196.9" x2="80.7" y2="193.5" stroke="#383838" stroke-width="1.1"/>
<text x="80.7" y="211" text-anchor="middle" font-size="12.5">2</text>
<line x1="102.7" y1="196.9" x2="102.7" y2="195.1" stroke="#383838" stroke-width="1.1"/>
<line x1="124.7" y1="196.9" x2="124.7" y2="193.5" stroke="#383838" stroke-width="1.1"/>
<text x="124.7" y="211" text-anchor="middle" font-size="12.5">4</text>
<line x1="146.7" y1="196.9" x2="146.7" y2="195.1" stroke="#383838" stroke-width="1.1"/>
<line x1="168.7" y1="196.9" x2="168.7" y2="193.5" stroke="#383838" stroke-width="1.1"/>
<text x="168.7" y="211" text-anchor="middle" font-size="12.5">6</text>
<line x1="190.7" y1="196.9" x2="190.7" y2="195.1" stroke="#383838" stroke-width="1.1"/>
<line x1="212.7" y1="196.9" x2="212.7" y2="193.5" stroke="#383838" stroke-width="1.1"/>
<text x="212.7" y="211" text-anchor="middle" font-size="12.5">8</text>
<line x1="234.7" y1="196.9" x2="234.7" y2="195.1" stroke="#383838" stroke-width="1.1"/>
<line x1="256.7" y1="196.9" x2="256.7" y2="193.5" stroke="#383838" stroke-width="1.1"/>
<text x="256.7" y="211" text-anchor="middle" font-size="12.5">10</text>
<line x1="278.7" y1="196.9" x2="278.7" y2="195.1" stroke="#383838" stroke-width="1.1"/>
<line x1="300.7" y1="196.9" x2="300.7" y2="193.5" stroke="#383838" stroke-width="1.1"/>
<text x="300.7" y="211" text-anchor="middle" font-size="12.5">12</text>
<text x="143" y="223" font-size="15.6" xml:space="preserve">Aperture  (nm)</text>
<text transform="translate(32.7 152.6) rotate(-90)" font-size="15.5" xml:space="preserve">Temperature  (K)</text>
<line x1="199.6" y1="58.6" x2="218" y2="58.6" stroke="#5a5a5a" stroke-width="1.1"/>
<rect x="206.8" y="56.6" width="4" height="4" fill="#fff" stroke="#5a5a5a" stroke-width="0.85"/>
<text x="221.3" y="62.8" font-size="13">27.3°</text>
<line x1="199.6" y1="74.5" x2="218" y2="74.5" stroke="#f05a5a" stroke-width="1.1"/>
<circle cx="208.8" cy="74.5" r="2.1" fill="#fff" stroke="#f05a5a" stroke-width="0.85"/>
<text x="221.3" y="78.7" font-size="13">37.9°</text>
<line x1="199.6" y1="90.4" x2="218" y2="90.4" stroke="#4f84e6" stroke-width="1.1"/>
<path d="M208.8 87.98L211.22 92.16L206.38 92.16Z" fill="#fff" stroke="#4f84e6" stroke-width="0.85"/>
<text x="221.3" y="94.6" font-size="13">46.8°</text>
<line x1="199.6" y1="106.3" x2="218" y2="106.3" stroke="#3aad6a" stroke-width="1.1"/>
<path d="M208.8 109.05L211.55 104.3L206.05 104.3Z" fill="#3aad6a"/>
<text x="221.3" y="110.5" font-size="13">58.5°</text>
<line x1="199.6" y1="122.2" x2="218" y2="122.2" stroke="#b07ce6" stroke-width="1.1"/>
<path d="M208.8 119.33L211.3 122.2L208.8 125.08L206.3 122.2Z" fill="#b07ce6"/>
<text x="221.3" y="126.4" font-size="13">84.9°</text>
<line x1="199.6" y1="138.1" x2="218" y2="138.1" stroke="#d6a019" stroke-width="1.1"/>
<path d="M205.94 138.1L210.88 135.24L210.88 140.96Z" fill="#d6a019"/>
<text x="221.3" y="142.3" font-size="13">105.1°</text>
<line x1="199" y1="154" x2="214" y2="154" stroke="#ee2a2a" stroke-width="1.3" stroke-dasharray="5.3 4.2"/>
<text x="221.3" y="158" font-size="13">Bulk phase</text>
<line x1="436" y1="27.8" x2="640" y2="27.8" stroke="#ee2a2a" stroke-width="1.2" stroke-dasharray="4 3.45"/>
<path d="M436.5 134.38 L436.64 130.84 L436.77 127.42 L436.91 124.12 L437.04 120.95 L437.18 117.93 L437.31 115.05 L437.45 112.34 L437.59 109.81 L437.72 107.46 L437.86 105.3 L437.99 103.35 L438.13 101.59 L438.26 99.97 L438.4 98.47 L438.54 97.07 L438.67 95.75 L438.81 94.5 L438.94 93.27 L439.08 92.07 L439.21 90.86 L439.35 89.62 L439.48 88.38 L439.62 87.15 L439.76 85.93 L439.89 84.72 L440.03 83.53 L440.16 82.37 L440.3 81.23 L440.43 80.13 L440.57 79.06 L440.71 78.04 L440.84 77.06 L440.98 76.13 L441.11 75.24 L441.25 74.36 L441.38 73.51 L441.52 72.67 L441.66 71.85 L441.79 71.05 L441.93 70.26 L442.06 69.49 L442.2 68.73 L442.33 67.99 L442.47 67.27 L442.61 66.56 L442.74 65.86 L442.88 65.18 L443.01 64.52 L443.15 63.87 L443.28 63.23 L443.42 62.61 L443.56 62 L443.69 61.4 L443.83 60.81 L443.96 60.24 L444.1 59.68 L444.23 59.13 L444.37 58.58 L444.51 58.05 L444.64 57.52 L444.78 56.99 L444.91 56.48 L445.05 55.98 L445.18 55.48 L445.32 55 L445.45 54.52 L445.59 54.06 L445.73 53.6 L445.86 53.16 L446 52.72 L446.13 52.3 L446.27 51.89 L446.4 51.49 L446.54 51.11 L446.68 50.73 L446.81 50.37 L446.95 50.02 L447.08 49.68 L447.22 49.36 L447.35 49.04 L447.49 48.73 L447.63 48.43 L447.76 48.14 L447.9 47.85 L448.03 47.57 L448.17 47.3 L448.3 47.03 L448.44 46.77 L448.58 46.52 L448.71 46.26 L448.85 46.02 L448.98 45.77 L449.12 45.53 L449.25 45.3 L449.39 45.06 L449.53 44.83 L449.66 44.59 L449.8 44.36 L449.93 44.13 L450.07 43.9 L450.2 43.67 L450.34 43.45 L450.47 43.22 L450.61 43 L450.75 42.77 L450.88 42.55 L451.02 42.33 L451.15 42.12 L451.29 41.9 L451.42 41.69 L451.56 41.48 L451.7 41.27 L451.83 41.07 L451.97 40.87 L452.1 40.67 L452.24 40.48 L452.37 40.29 L452.51 40.1 L452.65 39.92 L452.78 39.74 L452.92 39.57 L453.05 39.4 L453.19 39.23 L453.32 39.07 L453.46 38.91 L453.6 38.75 L453.73 38.6 L453.87 38.45 L454 38.3 L454.14 38.15 L454.27 38 L454.41 37.86 L454.55 37.72 L454.68 37.58 L454.82 37.44 L454.95 37.31 L455.09 37.17 L455.22 37.04 L455.36 36.92 L455.49 36.79 L455.63 36.67 L455.77 36.55 L455.9 36.44 L456.04 36.33 L456.17 36.22 L456.31 36.11 L456.44 36.01 L456.58 35.91 L456.72 35.81 L456.85 35.72 L456.99 35.63 L457.12 35.54 L457.26 35.46 L457.39 35.37 L457.53 35.29 L457.67 35.21 L457.8 35.13 L457.94 35.06 L458.07 34.98 L458.21 34.91 L458.34 34.84 L458.48 34.77 L458.62 34.69 L458.75 34.62 L458.89 34.55 L459.02 34.48 L459.16 34.41 L459.29 34.34 L459.43 34.27 L459.57 34.2 L459.7 34.12 L459.84 34.05 L459.97 33.98 L460.11 33.9 L460.24 33.83 L460.38 33.76 L460.52 33.68 L460.65 33.61 L460.79 33.54 L460.92 33.47 L461.06 33.4 L461.19 33.32 L461.33 33.25 L461.46 33.18 L461.6 33.12 L461.74 33.05 L461.87 32.98 L462.01 32.92 L462.14 32.85 L462.28 32.79 L462.41 32.72 L462.55 32.66 L462.69 32.6 L462.82 32.54 L462.96 32.49 L463.09 32.43 L463.23 32.38 L463.36 32.32 L463.5 32.27 L463.5 32.27 L463.58 32.24 L463.65 32.21 L463.73 32.18 L463.8 32.15 L463.88 32.12 L463.95 32.1 L464.03 32.07 L464.1 32.04 L464.18 32.01 L464.25 31.99 L464.33 31.96 L464.4 31.93 L464.48 31.9 L464.56 31.88 L464.63 31.85 L464.71 31.82 L464.78 31.8 L464.86 31.77 L464.93 31.74 L465.01 31.72 L465.08 31.69 L465.16 31.66 L465.23 31.63 L465.31 31.61 L465.38 31.58 L465.46 31.55 L465.54 31.52 L465.61 31.5 L465.69 31.47 L465.76 31.44 L465.84 31.41 L465.91 31.39 L465.99 31.36 L466.06 31.33 L466.14 31.3 L466.21 31.27 L466.29 31.24 L466.36 31.21 L466.44 31.18 L466.52 31.15 L466.59 31.12 L466.67 31.09 L466.74 31.06 L466.82 31.03 L466.89 31 L466.97 30.97 L467.04 30.94 L467.12 30.91 L467.19 30.88 L467.27 30.85 L467.34 30.82 L467.42 30.79 L467.49 30.76 L467.57 30.73 L467.65 30.7 L467.72 30.67 L467.8 30.64 L467.87 30.62 L467.95 30.59 L468.02 30.56 L468.1 30.53 L468.17 30.51 L468.25 30.48 L468.32 30.46 L468.4 30.43 L468.47 30.41 L468.55 30.38 L468.63 30.36 L468.7 30.34 L468.78 30.31 L468.85 30.29 L468.93 30.27 L469 30.25 L469.08 30.23 L469.15 30.21 L469.23 30.19 L469.3 30.17 L469.38 30.15 L469.45 30.13 L469.53 30.11 L469.61 30.09 L469.68 30.07 L469.76 30.06 L469.83 30.04 L469.91 30.02 L469.98 30 L470.06 29.98 L470.13 29.97 L470.21 29.95 L470.28 29.93 L470.36 29.91 L470.43 29.9 L470.51 29.88 L470.59 29.86 L470.66 29.85 L470.74 29.83 L470.81 29.81 L470.89 29.8 L470.96 29.78 L471.04 29.76 L471.11 29.75 L471.19 29.73 L471.26 29.72 L471.34 29.7 L471.41 29.68 L471.49 29.67 L471.57 29.65 L471.64 29.63 L471.72 29.62 L471.79 29.6 L471.87 29.59 L471.94 29.57 L472.02 29.55 L472.09 29.54 L472.17 29.52 L472.24 29.51 L472.32 29.49 L472.39 29.48 L472.47 29.46 L472.55 29.45 L472.62 29.43 L472.7 29.42 L472.77 29.4 L472.85 29.39 L472.92 29.37 L473 29.36 L473.07 29.34 L473.15 29.33 L473.22 29.31 L473.3 29.3 L473.37 29.29 L473.45 29.27 L473.53 29.26 L473.6 29.24 L473.68 29.23 L473.75 29.21 L473.83 29.2 L473.9 29.18 L473.98 29.17 L474.05 29.16 L474.13 29.14 L474.2 29.13 L474.28 29.11 L474.35 29.1 L474.43 29.08 L474.51 29.07 L474.58 29.05 L474.66 29.04 L474.73 29.02 L474.81 29.01 L474.88 28.99 L474.96 28.98 L475.03 28.96 L475.11 28.95 L475.18 28.93 L475.26 28.92 L475.33 28.9 L475.41 28.88 L475.48 28.87 L475.56 28.85 L475.64 28.84 L475.71 28.82 L475.79 28.81 L475.86 28.79 L475.94 28.78 L476.01 28.76 L476.09 28.75 L476.16 28.73 L476.24 28.72 L476.31 28.7 L476.39 28.69 L476.46 28.67 L476.54 28.65 L476.62 28.64 L476.69 28.62 L476.77 28.61 L476.84 28.59 L476.92 28.58 L476.99 28.56 L477.07 28.55 L477.14 28.53 L477.22 28.51 L477.29 28.5 L477.37 28.48 L477.44 28.47 L477.52 28.45 L477.6 28.44 L477.67 28.42 L477.75 28.4 L477.82 28.39 L477.9 28.37 L477.97 28.36 L478.05 28.34 L478.12 28.33 L478.2 28.31 L478.27 28.29 L478.35 28.28 L478.42 28.26 L478.5 28.25" fill="none" stroke="#5a5a5a" stroke-width="0.95"/>
<circle cx="436.5" cy="134.38" r="1" fill="#fff" stroke="#5a5a5a" stroke-width="0.6"/>
<circle cx="438" cy="103.25" r="1" fill="#fff" stroke="#5a5a5a" stroke-width="0.6"/>
<circle cx="441" cy="75.98" r="1" fill="#fff" stroke="#5a5a5a" stroke-width="0.6"/>
<circle cx="444" cy="60.09" r="1" fill="#fff" stroke="#5a5a5a" stroke-width="0.6"/>
<circle cx="447" cy="49.89" r="1" fill="#fff" stroke="#5a5a5a" stroke-width="0.6"/>
<circle cx="450" cy="44.02" r="1" fill="#fff" stroke="#5a5a5a" stroke-width="0.6"/>
<circle cx="453" cy="39.46" r="1" fill="#fff" stroke="#5a5a5a" stroke-width="0.6"/>
<circle cx="456" cy="36.36" r="1" fill="#fff" stroke="#5a5a5a" stroke-width="0.6"/>
<circle cx="459" cy="34.49" r="1" fill="#fff" stroke="#5a5a5a" stroke-width="0.6"/>
<circle cx="462" cy="32.92" r="1" fill="#fff" stroke="#5a5a5a" stroke-width="0.6"/>
<circle cx="465" cy="31.72" r="1" fill="#fff" stroke="#5a5a5a" stroke-width="0.6"/>
<circle cx="468" cy="30.57" r="1" fill="#fff" stroke="#5a5a5a" stroke-width="0.6"/>
<circle cx="471" cy="29.77" r="1" fill="#fff" stroke="#5a5a5a" stroke-width="0.6"/>
<circle cx="474" cy="29.17" r="1" fill="#fff" stroke="#5a5a5a" stroke-width="0.6"/>
<circle cx="477" cy="28.56" r="1" fill="#fff" stroke="#5a5a5a" stroke-width="0.6"/>
<path d="M436.5 162.18 L436.64 159.31 L436.77 156.49 L436.91 153.72 L437.04 151.01 L437.18 148.37 L437.31 145.8 L437.45 143.3 L437.59 140.89 L437.72 138.56 L437.86 136.33 L437.99 134.2 L438.13 132.14 L438.26 130.13 L438.4 128.17 L438.54 126.26 L438.67 124.39 L438.81 122.57 L438.94 120.8 L439.08 119.08 L439.21 117.41 L439.35 115.79 L439.48 114.21 L439.62 112.68 L439.76 111.21 L439.89 109.78 L440.03 108.39 L440.16 107.05 L440.3 105.73 L440.43 104.46 L440.57 103.21 L440.71 101.99 L440.84 100.81 L440.98 99.65 L441.11 98.51 L441.25 97.41 L441.38 96.32 L441.52 95.26 L441.66 94.21 L441.79 93.19 L441.93 92.18 L442.06 91.19 L442.2 90.22 L442.33 89.26 L442.47 88.31 L442.61 87.39 L442.74 86.47 L442.88 85.58 L443.01 84.7 L443.15 83.84 L443.28 83 L443.42 82.17 L443.56 81.35 L443.69 80.56 L443.83 79.77 L443.96 79.01 L444.1 78.25 L444.23 77.52 L444.37 76.79 L444.51 76.08 L444.64 75.36 L444.78 74.66 L444.91 73.96 L445.05 73.27 L445.18 72.59 L445.32 71.92 L445.45 71.26 L445.59 70.61 L445.73 69.97 L445.86 69.35 L446 68.74 L446.13 68.14 L446.27 67.56 L446.4 66.99 L446.54 66.44 L446.68 65.91 L446.81 65.39 L446.95 64.9 L447.08 64.42 L447.22 63.96 L447.35 63.5 L447.49 63.06 L447.63 62.63 L447.76 62.2 L447.9 61.79 L448.03 61.39 L448.17 60.99 L448.3 60.6 L448.44 60.22 L448.58 59.84 L448.71 59.48 L448.85 59.11 L448.98 58.76 L449.12 58.4 L449.25 58.05 L449.39 57.71 L449.53 57.37 L449.66 57.03 L449.8 56.69 L449.93 56.35 L450.07 56.02 L450.2 55.69 L450.34 55.36 L450.47 55.03 L450.61 54.71 L450.75 54.39 L450.88 54.07 L451.02 53.76 L451.15 53.46 L451.29 53.15 L451.42 52.85 L451.56 52.56 L451.7 52.26 L451.83 51.97 L451.97 51.69 L452.1 51.4 L452.24 51.12 L452.37 50.84 L452.51 50.57 L452.65 50.29 L452.78 50.02 L452.92 49.76 L453.05 49.49 L453.19 49.21 L453.32 48.94 L453.46 48.67 L453.6 48.39 L453.73 48.12 L453.87 47.84 L454 47.57 L454.14 47.3 L454.27 47.04 L454.41 46.78 L454.55 46.52 L454.68 46.27 L454.82 46.02 L454.95 45.78 L455.09 45.55 L455.22 45.32 L455.36 45.1 L455.49 44.89 L455.63 44.69 L455.77 44.5 L455.9 44.32 L456.04 44.15 L456.17 43.99 L456.31 43.84 L456.44 43.7 L456.58 43.56 L456.72 43.43 L456.85 43.31 L456.99 43.19 L457.12 43.07 L457.26 42.96 L457.39 42.85 L457.53 42.74 L457.67 42.64 L457.8 42.53 L457.94 42.43 L458.07 42.33 L458.21 42.23 L458.34 42.14 L458.48 42.04 L458.62 41.94 L458.75 41.84 L458.89 41.74 L459.02 41.63 L459.16 41.53 L459.29 41.42 L459.43 41.31 L459.57 41.19 L459.7 41.08 L459.84 40.96 L459.97 40.84 L460.11 40.72 L460.24 40.59 L460.38 40.47 L460.52 40.34 L460.65 40.22 L460.79 40.09 L460.92 39.97 L461.06 39.85 L461.19 39.73 L461.33 39.61 L461.46 39.49 L461.6 39.37 L461.74 39.26 L461.87 39.15 L462.01 39.04 L462.14 38.94 L462.28 38.84 L462.41 38.75 L462.55 38.66 L462.69 38.57 L462.82 38.48 L462.96 38.4 L463.09 38.32 L463.23 38.24 L463.36 38.17 L463.5 38.09 L463.5 38.09 L463.76 37.95 L464.01 37.82 L464.27 37.69 L464.53 37.56 L464.78 37.44 L465.04 37.33 L465.29 37.21 L465.55 37.1 L465.81 37 L466.06 36.9 L466.32 36.8 L466.58 36.71 L466.83 36.63 L467.09 36.54 L467.34 36.46 L467.6 36.38 L467.86 36.3 L468.11 36.22 L468.37 36.13 L468.63 36.05 L468.88 35.96 L469.14 35.86 L469.39 35.77 L469.65 35.66 L469.91 35.56 L470.16 35.46 L470.42 35.35 L470.68 35.24 L470.93 35.13 L471.19 35.02 L471.44 34.91 L471.7 34.8 L471.96 34.69 L472.21 34.58 L472.47 34.47 L472.73 34.36 L472.98 34.26 L473.24 34.16 L473.49 34.06 L473.75 33.97 L474.01 33.88 L474.26 33.79 L474.52 33.7 L474.78 33.62 L475.03 33.53 L475.29 33.45 L475.55 33.36 L475.8 33.28 L476.06 33.2 L476.31 33.12 L476.57 33.04 L476.83 32.96 L477.08 32.89 L477.34 32.81 L477.6 32.73 L477.85 32.66 L478.11 32.59 L478.36 32.51 L478.62 32.44 L478.88 32.37 L479.13 32.3 L479.39 32.23 L479.65 32.16 L479.9 32.1 L480.16 32.03 L480.41 31.96 L480.67 31.9 L480.93 31.83 L481.18 31.77 L481.44 31.71 L481.7 31.65 L481.95 31.59 L482.21 31.52 L482.46 31.46 L482.72 31.4 L482.98 31.34 L483.23 31.28 L483.49 31.22 L483.75 31.17 L484 31.11 L484.26 31.05 L484.52 31 L484.77 30.94 L485.03 30.89 L485.28 30.83 L485.54 30.78 L485.8 30.73 L486.05 30.68 L486.31 30.63 L486.57 30.58 L486.82 30.54 L487.08 30.49 L487.33 30.45 L487.59 30.4 L487.85 30.36 L488.1 30.32 L488.36 30.28 L488.62 30.24 L488.87 30.21 L489.13 30.17 L489.38 30.13 L489.64 30.1 L489.9 30.06 L490.15 30.02 L490.41 29.99 L490.67 29.96 L490.92 29.92 L491.18 29.89 L491.43 29.85 L491.69 29.82 L491.95 29.79 L492.2 29.76 L492.46 29.73 L492.72 29.69 L492.97 29.66 L493.23 29.63 L493.48 29.6 L493.74 29.57 L494 29.54 L494.25 29.51 L494.51 29.49 L494.77 29.46 L495.02 29.43 L495.28 29.4 L495.54 29.37 L495.79 29.35 L496.05 29.32 L496.3 29.29 L496.56 29.27 L496.82 29.24 L497.07 29.21 L497.33 29.19 L497.59 29.16 L497.84 29.14 L498.1 29.11 L498.35 29.09 L498.61 29.06 L498.87 29.04 L499.12 29.01 L499.38 28.99 L499.64 28.97 L499.89 28.94 L500.15 28.92 L500.4 28.89 L500.66 28.87 L500.92 28.85 L501.17 28.82 L501.43 28.8 L501.69 28.78 L501.94 28.76 L502.2 28.73 L502.45 28.71 L502.71 28.69 L502.97 28.67 L503.22 28.64 L503.48 28.62 L503.74 28.6 L503.99 28.58 L504.25 28.56 L504.51 28.53 L504.76 28.51 L505.02 28.49 L505.27 28.47 L505.53 28.45 L505.79 28.43 L506.04 28.41 L506.3 28.39 L506.56 28.37 L506.81 28.35 L507.07 28.33 L507.32 28.31 L507.58 28.29 L507.84 28.27 L508.09 28.25 L508.35 28.23 L508.61 28.21 L508.86 28.19 L509.12 28.17 L509.37 28.16 L509.63 28.14 L509.89 28.12 L510.14 28.1 L510.4 28.08 L510.66 28.07 L510.91 28.05 L511.17 28.03 L511.42 28.02 L511.68 28 L511.94 27.98 L512.19 27.97 L512.45 27.95 L512.71 27.94 L512.96 27.92 L513.22 27.9 L513.47 27.89 L513.73 27.87 L513.99 27.86 L514.24 27.85 L514.5 27.83" fill="none" stroke="#f05a5a" stroke-width="0.95"/>
<circle cx="436.5" cy="162.18" r="1" fill="#fff" stroke="#f05a5a" stroke-width="0.6"/>
<circle cx="438" cy="134.08" r="1" fill="#fff" stroke="#f05a5a" stroke-width="0.6"/>
<circle cx="441" cy="99.46" r="1" fill="#fff" stroke="#f05a5a" stroke-width="0.6"/>
<circle cx="444" cy="78.8" r="1" fill="#fff" stroke="#f05a5a" stroke-width="0.6"/>
<circle cx="447" cy="64.71" r="1" fill="#fff" stroke="#f05a5a" stroke-width="0.6"/>
<circle cx="450" cy="56.19" r="1" fill="#fff" stroke="#f05a5a" stroke-width="0.6"/>
<circle cx="453" cy="49.59" r="1" fill="#fff" stroke="#f05a5a" stroke-width="0.6"/>
<circle cx="456" cy="44.2" r="1" fill="#fff" stroke="#f05a5a" stroke-width="0.6"/>
<circle cx="459" cy="41.65" r="1" fill="#fff" stroke="#f05a5a" stroke-width="0.6"/>
<circle cx="462" cy="39.05" r="1" fill="#fff" stroke="#f05a5a" stroke-width="0.6"/>
<circle cx="465" cy="37.34" r="1" fill="#fff" stroke="#f05a5a" stroke-width="0.6"/>
<circle cx="468" cy="36.25" r="1" fill="#fff" stroke="#f05a5a" stroke-width="0.6"/>
<circle cx="471" cy="35.1" r="1" fill="#fff" stroke="#f05a5a" stroke-width="0.6"/>
<circle cx="474" cy="33.88" r="1" fill="#fff" stroke="#f05a5a" stroke-width="0.6"/>
<circle cx="477" cy="32.91" r="1" fill="#fff" stroke="#f05a5a" stroke-width="0.6"/>
<circle cx="480" cy="32.07" r="1" fill="#fff" stroke="#f05a5a" stroke-width="0.6"/>
<circle cx="483" cy="31.34" r="1" fill="#fff" stroke="#f05a5a" stroke-width="0.6"/>
<circle cx="486" cy="30.69" r="1" fill="#fff" stroke="#f05a5a" stroke-width="0.6"/>
<circle cx="489" cy="30.19" r="1" fill="#fff" stroke="#f05a5a" stroke-width="0.6"/>
<circle cx="492" cy="29.78" r="1" fill="#fff" stroke="#f05a5a" stroke-width="0.6"/>
<circle cx="495" cy="29.43" r="1" fill="#fff" stroke="#f05a5a" stroke-width="0.6"/>
<circle cx="498" cy="29.12" r="1" fill="#fff" stroke="#f05a5a" stroke-width="0.6"/>
<circle cx="501" cy="28.84" r="1" fill="#fff" stroke="#f05a5a" stroke-width="0.6"/>
<circle cx="504" cy="28.58" r="1" fill="#fff" stroke="#f05a5a" stroke-width="0.6"/>
<circle cx="507" cy="28.33" r="1" fill="#fff" stroke="#f05a5a" stroke-width="0.6"/>
<circle cx="510" cy="28.11" r="1" fill="#fff" stroke="#f05a5a" stroke-width="0.6"/>
<circle cx="513" cy="27.92" r="1" fill="#fff" stroke="#f05a5a" stroke-width="0.6"/>
<path d="M436.5 174.81 L436.64 171.6 L436.77 168.44 L436.91 165.33 L437.04 162.29 L437.18 159.31 L437.31 156.4 L437.45 153.57 L437.59 150.82 L437.72 148.16 L437.86 145.58 L437.99 143.11 L438.13 140.7 L438.26 138.33 L438.4 135.99 L438.54 133.7 L438.67 131.46 L438.81 129.26 L438.94 127.12 L439.08 125.04 L439.21 123.02 L439.35 121.07 L439.48 119.19 L439.62 117.38 L439.76 115.65 L439.89 114.01 L440.03 112.44 L440.16 110.93 L440.3 109.48 L440.43 108.07 L440.57 106.71 L440.71 105.39 L440.84 104.1 L440.98 102.85 L441.11 101.63 L441.25 100.44 L441.38 99.28 L441.52 98.13 L441.66 97 L441.79 95.89 L441.93 94.78 L442.06 93.68 L442.2 92.59 L442.33 91.5 L442.47 90.41 L442.61 89.33 L442.74 88.27 L442.88 87.22 L443.01 86.18 L443.15 85.17 L443.28 84.18 L443.42 83.21 L443.56 82.27 L443.69 81.36 L443.83 80.48 L443.96 79.63 L444.1 78.82 L444.23 78.05 L444.37 77.29 L444.51 76.55 L444.64 75.81 L444.78 75.09 L444.91 74.38 L445.05 73.69 L445.18 73.01 L445.32 72.35 L445.45 71.71 L445.59 71.07 L445.73 70.46 L445.86 69.86 L446 69.28 L446.13 68.72 L446.27 68.18 L446.4 67.66 L446.54 67.15 L446.68 66.67 L446.81 66.2 L446.95 65.76 L447.08 65.32 L447.22 64.9 L447.35 64.49 L447.49 64.09 L447.63 63.7 L447.76 63.32 L447.9 62.95 L448.03 62.59 L448.17 62.24 L448.3 61.89 L448.44 61.56 L448.58 61.23 L448.71 60.9 L448.85 60.58 L448.98 60.27 L449.12 59.97 L449.25 59.66 L449.39 59.37 L449.53 59.07 L449.66 58.78 L449.8 58.5 L449.93 58.21 L450.07 57.93 L450.2 57.65 L450.34 57.39 L450.47 57.12 L450.61 56.87 L450.75 56.61 L450.88 56.37 L451.02 56.13 L451.15 55.89 L451.29 55.65 L451.42 55.42 L451.56 55.19 L451.7 54.96 L451.83 54.74 L451.97 54.51 L452.1 54.29 L452.24 54.07 L452.37 53.84 L452.51 53.62 L452.65 53.4 L452.78 53.17 L452.92 52.94 L453.05 52.71 L453.19 52.48 L453.32 52.24 L453.46 52.01 L453.6 51.76 L453.73 51.51 L453.87 51.26 L454 51 L454.14 50.74 L454.27 50.48 L454.41 50.21 L454.55 49.94 L454.68 49.68 L454.82 49.41 L454.95 49.15 L455.09 48.88 L455.22 48.62 L455.36 48.37 L455.49 48.11 L455.63 47.87 L455.77 47.62 L455.9 47.39 L456.04 47.16 L456.17 46.93 L456.31 46.72 L456.44 46.52 L456.58 46.32 L456.72 46.14 L456.85 45.96 L456.99 45.79 L457.12 45.63 L457.26 45.47 L457.39 45.32 L457.53 45.16 L457.67 45.02 L457.8 44.87 L457.94 44.73 L458.07 44.6 L458.21 44.46 L458.34 44.33 L458.48 44.2 L458.62 44.07 L458.75 43.94 L458.89 43.82 L459.02 43.69 L459.16 43.57 L459.29 43.45 L459.43 43.32 L459.57 43.2 L459.7 43.07 L459.84 42.95 L459.97 42.83 L460.11 42.7 L460.24 42.58 L460.38 42.45 L460.52 42.33 L460.65 42.21 L460.79 42.09 L460.92 41.97 L461.06 41.85 L461.19 41.73 L461.33 41.61 L461.46 41.49 L461.6 41.38 L461.74 41.26 L461.87 41.15 L462.01 41.04 L462.14 40.93 L462.28 40.82 L462.41 40.71 L462.55 40.6 L462.69 40.5 L462.82 40.39 L462.96 40.29 L463.09 40.19 L463.23 40.09 L463.36 39.99 L463.5 39.9 L463.5 39.9 L463.76 39.71 L464.01 39.54 L464.27 39.36 L464.53 39.19 L464.78 39.02 L465.04 38.85 L465.29 38.69 L465.55 38.54 L465.81 38.39 L466.06 38.24 L466.32 38.11 L466.58 37.97 L466.83 37.84 L467.09 37.72 L467.34 37.6 L467.6 37.48 L467.86 37.36 L468.11 37.25 L468.37 37.14 L468.63 37.03 L468.88 36.93 L469.14 36.82 L469.39 36.72 L469.65 36.61 L469.91 36.51 L470.16 36.4 L470.42 36.3 L470.68 36.19 L470.93 36.08 L471.19 35.98 L471.44 35.87 L471.7 35.77 L471.96 35.66 L472.21 35.56 L472.47 35.46 L472.73 35.35 L472.98 35.25 L473.24 35.15 L473.49 35.05 L473.75 34.95 L474.01 34.85 L474.26 34.75 L474.52 34.65 L474.78 34.55 L475.03 34.46 L475.29 34.36 L475.55 34.27 L475.8 34.17 L476.06 34.08 L476.31 33.99 L476.57 33.9 L476.83 33.82 L477.08 33.73 L477.34 33.65 L477.6 33.56 L477.85 33.48 L478.11 33.4 L478.36 33.33 L478.62 33.25 L478.88 33.18 L479.13 33.1 L479.39 33.03 L479.65 32.96 L479.9 32.88 L480.16 32.81 L480.41 32.74 L480.67 32.67 L480.93 32.6 L481.18 32.54 L481.44 32.47 L481.7 32.4 L481.95 32.33 L482.21 32.27 L482.46 32.2 L482.72 32.14 L482.98 32.07 L483.23 32.01 L483.49 31.95 L483.75 31.89 L484 31.83 L484.26 31.77 L484.52 31.71 L484.77 31.65 L485.03 31.59 L485.28 31.54 L485.54 31.48 L485.8 31.43 L486.05 31.37 L486.31 31.32 L486.57 31.27 L486.82 31.22 L487.08 31.16 L487.33 31.11 L487.59 31.07 L487.85 31.02 L488.1 30.97 L488.36 30.92 L488.62 30.88 L488.87 30.83 L489.13 30.79 L489.38 30.74 L489.64 30.7 L489.9 30.65 L490.15 30.61 L490.41 30.57 L490.67 30.53 L490.92 30.48 L491.18 30.44 L491.43 30.4 L491.69 30.36 L491.95 30.32 L492.2 30.28 L492.46 30.24 L492.72 30.2 L492.97 30.16 L493.23 30.13 L493.48 30.09 L493.74 30.05 L494 30.01 L494.25 29.98 L494.51 29.94 L494.77 29.91 L495.02 29.87 L495.28 29.83 L495.54 29.8 L495.79 29.77 L496.05 29.73 L496.3 29.7 L496.56 29.66 L496.82 29.63 L497.07 29.6 L497.33 29.57 L497.59 29.53 L497.84 29.5 L498.1 29.47 L498.35 29.44 L498.61 29.41 L498.87 29.38 L499.12 29.35 L499.38 29.32 L499.64 29.29 L499.89 29.26 L500.15 29.23 L500.4 29.2 L500.66 29.17 L500.92 29.15 L501.17 29.12 L501.43 29.09 L501.69 29.06 L501.94 29.04 L502.2 29.01 L502.45 28.98 L502.71 28.95 L502.97 28.93 L503.22 28.9 L503.48 28.87 L503.74 28.85 L503.99 28.82 L504.25 28.8 L504.51 28.77 L504.76 28.74 L505.02 28.72 L505.27 28.69 L505.53 28.67 L505.79 28.64 L506.04 28.62 L506.3 28.6 L506.56 28.57 L506.81 28.55 L507.07 28.52 L507.32 28.5 L507.58 28.48 L507.84 28.45 L508.09 28.43 L508.35 28.41 L508.61 28.39 L508.86 28.36 L509.12 28.34 L509.37 28.32 L509.63 28.3 L509.89 28.28 L510.14 28.26 L510.4 28.24 L510.66 28.22 L510.91 28.2 L511.17 28.18 L511.42 28.16 L511.68 28.14 L511.94 28.12 L512.19 28.1 L512.45 28.08 L512.71 28.07 L512.96 28.05 L513.22 28.03 L513.47 28.02 L513.73 28 L513.99 27.98 L514.24 27.97 L514.5 27.95" fill="none" stroke="#4f84e6" stroke-width="0.95"/>
<path d="M436.5 173.6L437.71 175.69L435.29 175.69Z" fill="#fff" stroke="#4f84e6" stroke-width="0.6"/>
<path d="M438 141.76L439.21 143.85L436.79 143.85Z" fill="#fff" stroke="#4f84e6" stroke-width="0.6"/>
<path d="M441 101.44L442.21 103.53L439.79 103.53Z" fill="#fff" stroke="#4f84e6" stroke-width="0.6"/>
<path d="M444 78.19L445.21 80.28L442.79 80.28Z" fill="#fff" stroke="#4f84e6" stroke-width="0.6"/>
<path d="M447 64.38L448.21 66.47L445.79 66.47Z" fill="#fff" stroke="#4f84e6" stroke-width="0.6"/>
<path d="M450 56.86L451.21 58.95L448.79 58.95Z" fill="#fff" stroke="#4f84e6" stroke-width="0.6"/>
<path d="M453 51.59L454.21 53.68L451.79 53.68Z" fill="#fff" stroke="#4f84e6" stroke-width="0.6"/>
<path d="M456 46.01L457.21 48.1L454.79 48.1Z" fill="#fff" stroke="#4f84e6" stroke-width="0.6"/>
<path d="M459 42.5L460.21 44.59L457.79 44.59Z" fill="#fff" stroke="#4f84e6" stroke-width="0.6"/>
<path d="M462 39.83L463.21 41.92L460.79 41.92Z" fill="#fff" stroke="#4f84e6" stroke-width="0.6"/>
<path d="M465 37.67L466.21 39.76L463.79 39.76Z" fill="#fff" stroke="#4f84e6" stroke-width="0.6"/>
<path d="M468 36.09L469.21 38.18L466.79 38.18Z" fill="#fff" stroke="#4f84e6" stroke-width="0.6"/>
<path d="M471 34.85L472.21 36.94L469.79 36.94Z" fill="#fff" stroke="#4f84e6" stroke-width="0.6"/>
<path d="M474 33.64L475.21 35.73L472.79 35.73Z" fill="#fff" stroke="#4f84e6" stroke-width="0.6"/>
<path d="M477 32.55L478.21 34.64L475.79 34.64Z" fill="#fff" stroke="#4f84e6" stroke-width="0.6"/>
<path d="M480 31.65L481.21 33.74L478.79 33.74Z" fill="#fff" stroke="#4f84e6" stroke-width="0.6"/>
<path d="M483 30.86L484.21 32.95L481.79 32.95Z" fill="#fff" stroke="#4f84e6" stroke-width="0.6"/>
<path d="M486 30.17L487.21 32.26L484.79 32.26Z" fill="#fff" stroke="#4f84e6" stroke-width="0.6"/>
<path d="M489 29.6L490.21 31.69L487.79 31.69Z" fill="#fff" stroke="#4f84e6" stroke-width="0.6"/>
<path d="M492 29.1L493.21 31.19L490.79 31.19Z" fill="#fff" stroke="#4f84e6" stroke-width="0.6"/>
<path d="M495 28.66L496.21 30.75L493.79 30.75Z" fill="#fff" stroke="#4f84e6" stroke-width="0.6"/>
<path d="M498 28.27L499.21 30.36L496.79 30.36Z" fill="#fff" stroke="#4f84e6" stroke-width="0.6"/>
<path d="M501 27.93L502.21 30.02L499.79 30.02Z" fill="#fff" stroke="#4f84e6" stroke-width="0.6"/>
<path d="M504 27.61L505.21 29.7L502.79 29.7Z" fill="#fff" stroke="#4f84e6" stroke-width="0.6"/>
<path d="M507 27.32L508.21 29.41L505.79 29.41Z" fill="#fff" stroke="#4f84e6" stroke-width="0.6"/>
<path d="M510 27.06L511.21 29.15L508.79 29.15Z" fill="#fff" stroke="#4f84e6" stroke-width="0.6"/>
<path d="M513 26.84L514.21 28.93L511.79 28.93Z" fill="#fff" stroke="#4f84e6" stroke-width="0.6"/>
<path d="M436.5 188.8 L436.64 185.7 L436.77 182.64 L436.91 179.64 L437.04 176.7 L437.18 173.82 L437.31 171.01 L437.45 168.25 L437.59 165.57 L437.72 162.95 L437.86 160.4 L437.99 157.93 L438.13 155.51 L438.26 153.13 L438.4 150.78 L438.54 148.48 L438.67 146.23 L438.81 144.05 L438.94 141.93 L439.08 139.89 L439.21 137.92 L439.35 136.05 L439.48 134.27 L439.62 132.57 L439.76 130.92 L439.89 129.31 L440.03 127.75 L440.16 126.22 L440.3 124.73 L440.43 123.28 L440.57 121.86 L440.71 120.48 L440.84 119.12 L440.98 117.79 L441.11 116.48 L441.25 115.2 L441.38 113.94 L441.52 112.7 L441.66 111.48 L441.79 110.27 L441.93 109.07 L442.06 107.88 L442.2 106.7 L442.33 105.54 L442.47 104.39 L442.61 103.25 L442.74 102.13 L442.88 101.03 L443.01 99.94 L443.15 98.87 L443.28 97.82 L443.42 96.8 L443.56 95.79 L443.69 94.8 L443.83 93.84 L443.96 92.9 L444.1 91.99 L444.23 91.11 L444.37 90.25 L444.51 89.41 L444.64 88.59 L444.78 87.79 L444.91 86.99 L445.05 86.22 L445.18 85.45 L445.32 84.7 L445.45 83.97 L445.59 83.25 L445.73 82.55 L445.86 81.86 L446 81.19 L446.13 80.54 L446.27 79.91 L446.4 79.29 L446.54 78.69 L446.68 78.11 L446.81 77.55 L446.95 77.01 L447.08 76.48 L447.22 75.95 L447.35 75.44 L447.49 74.93 L447.63 74.44 L447.76 73.95 L447.9 73.47 L448.03 73 L448.17 72.54 L448.3 72.09 L448.44 71.65 L448.58 71.22 L448.71 70.8 L448.85 70.38 L448.98 69.98 L449.12 69.58 L449.25 69.19 L449.39 68.81 L449.53 68.44 L449.66 68.07 L449.8 67.72 L449.93 67.37 L450.07 67.03 L450.2 66.7 L450.34 66.39 L450.47 66.08 L450.61 65.77 L450.75 65.48 L450.88 65.19 L451.02 64.91 L451.15 64.64 L451.29 64.37 L451.42 64.1 L451.56 63.84 L451.7 63.58 L451.83 63.32 L451.97 63.06 L452.1 62.81 L452.24 62.55 L452.37 62.3 L452.51 62.04 L452.65 61.78 L452.78 61.52 L452.92 61.26 L453.05 60.99 L453.19 60.72 L453.32 60.45 L453.46 60.17 L453.6 59.9 L453.73 59.62 L453.87 59.35 L454 59.07 L454.14 58.8 L454.27 58.52 L454.41 58.25 L454.55 57.98 L454.68 57.7 L454.82 57.43 L454.95 57.16 L455.09 56.89 L455.22 56.62 L455.36 56.35 L455.49 56.09 L455.63 55.83 L455.77 55.56 L455.9 55.3 L456.04 55.04 L456.17 54.77 L456.31 54.49 L456.44 54.22 L456.58 53.94 L456.72 53.66 L456.85 53.38 L456.99 53.1 L457.12 52.83 L457.26 52.55 L457.39 52.28 L457.53 52.02 L457.67 51.76 L457.8 51.51 L457.94 51.26 L458.07 51.02 L458.21 50.8 L458.34 50.58 L458.48 50.38 L458.62 50.19 L458.75 50.01 L458.89 49.84 L459.02 49.69 L459.16 49.54 L459.29 49.4 L459.43 49.26 L459.57 49.12 L459.7 48.99 L459.84 48.87 L459.97 48.75 L460.11 48.63 L460.24 48.52 L460.38 48.41 L460.52 48.3 L460.65 48.19 L460.79 48.08 L460.92 47.98 L461.06 47.88 L461.19 47.78 L461.33 47.68 L461.46 47.58 L461.6 47.47 L461.74 47.37 L461.87 47.27 L462.01 47.17 L462.14 47.06 L462.28 46.95 L462.41 46.84 L462.55 46.73 L462.69 46.61 L462.82 46.49 L462.96 46.37 L463.09 46.25 L463.23 46.12 L463.36 45.99 L463.5 45.87 L463.5 45.87 L463.99 45.4 L464.48 44.95 L464.97 44.54 L465.46 44.19 L465.95 43.91 L466.44 43.68 L466.93 43.48 L467.42 43.29 L467.91 43.12 L468.4 42.96 L468.89 42.8 L469.38 42.63 L469.87 42.45 L470.36 42.26 L470.85 42.06 L471.34 41.86 L471.83 41.66 L472.32 41.45 L472.81 41.25 L473.3 41.04 L473.79 40.83 L474.28 40.62 L474.77 40.42 L475.26 40.21 L475.75 40.01 L476.24 39.81 L476.73 39.61 L477.22 39.41 L477.71 39.22 L478.2 39.03 L478.69 38.85 L479.18 38.66 L479.67 38.48 L480.16 38.29 L480.65 38.11 L481.14 37.92 L481.63 37.74 L482.12 37.55 L482.61 37.37 L483.1 37.19 L483.59 37.02 L484.08 36.84 L484.57 36.67 L485.06 36.51 L485.55 36.35 L486.04 36.2 L486.53 36.05 L487.02 35.9 L487.51 35.77 L488 35.64 L488.49 35.52 L488.98 35.4 L489.47 35.29 L489.96 35.18 L490.45 35.07 L490.94 34.96 L491.43 34.86 L491.92 34.76 L492.41 34.66 L492.9 34.56 L493.39 34.47 L493.88 34.38 L494.37 34.28 L494.86 34.2 L495.35 34.11 L495.84 34.02 L496.33 33.94 L496.82 33.86 L497.31 33.78 L497.8 33.7 L498.29 33.62 L498.78 33.54 L499.27 33.46 L499.76 33.39 L500.25 33.32 L500.74 33.24 L501.23 33.17 L501.72 33.1 L502.21 33.03 L502.7 32.96 L503.19 32.89 L503.68 32.83 L504.17 32.76 L504.66 32.7 L505.15 32.63 L505.64 32.57 L506.13 32.51 L506.62 32.45 L507.11 32.39 L507.6 32.33 L508.09 32.27 L508.58 32.21 L509.07 32.16 L509.56 32.1 L510.05 32.04 L510.54 31.99 L511.03 31.93 L511.52 31.88 L512.01 31.83 L512.49 31.77 L512.98 31.72 L513.47 31.67 L513.96 31.62 L514.45 31.57 L514.94 31.52 L515.43 31.47 L515.92 31.42 L516.41 31.37 L516.9 31.32 L517.39 31.27 L517.88 31.22 L518.37 31.17 L518.86 31.12 L519.35 31.07 L519.84 31.02 L520.33 30.98 L520.82 30.93 L521.31 30.88 L521.8 30.84 L522.29 30.79 L522.78 30.74 L523.27 30.7 L523.76 30.65 L524.25 30.61 L524.74 30.56 L525.23 30.52 L525.72 30.48 L526.21 30.43 L526.7 30.39 L527.19 30.35 L527.68 30.3 L528.17 30.26 L528.66 30.22 L529.15 30.18 L529.64 30.14 L530.13 30.1 L530.62 30.06 L531.11 30.02 L531.6 29.98 L532.09 29.94 L532.58 29.9 L533.07 29.86 L533.56 29.82 L534.05 29.79 L534.54 29.75 L535.03 29.71 L535.52 29.67 L536.01 29.64 L536.5 29.6 L536.99 29.57 L537.48 29.53 L537.97 29.49 L538.46 29.46 L538.95 29.42 L539.44 29.39 L539.93 29.35 L540.42 29.32 L540.91 29.29 L541.4 29.25 L541.89 29.22 L542.38 29.19 L542.87 29.15 L543.36 29.12 L543.85 29.09 L544.34 29.05 L544.83 29.02 L545.32 28.99 L545.81 28.96 L546.3 28.93 L546.79 28.89 L547.28 28.86 L547.77 28.83 L548.26 28.8 L548.75 28.77 L549.24 28.74 L549.73 28.71 L550.22 28.68 L550.71 28.65 L551.2 28.62 L551.69 28.59 L552.18 28.56 L552.67 28.53 L553.16 28.5 L553.65 28.47 L554.14 28.45 L554.63 28.42 L555.12 28.39 L555.61 28.36 L556.1 28.33 L556.59 28.31 L557.08 28.28 L557.57 28.25 L558.06 28.23 L558.55 28.2 L559.04 28.17 L559.53 28.15 L560.02 28.12 L560.51 28.09 L561 28.07" fill="none" stroke="#3aad6a" stroke-width="0.95"/>
<path d="M436.5 190.12L437.82 187.84L435.18 187.84Z" fill="#3aad6a"/>
<path d="M438 159.12L439.32 156.84L436.68 156.84Z" fill="#3aad6a"/>
<path d="M441 118.89L442.32 116.61L439.68 116.61Z" fill="#3aad6a"/>
<path d="M444 93.97L445.32 91.69L442.68 91.69Z" fill="#3aad6a"/>
<path d="M447 78.12L448.32 75.84L445.68 75.84Z" fill="#3aad6a"/>
<path d="M450 68.52L451.32 66.24L448.68 66.24Z" fill="#3aad6a"/>
<path d="M453 62.42L454.32 60.14L451.68 60.14Z" fill="#3aad6a"/>
<path d="M456 56.43L457.32 54.15L454.68 54.15Z" fill="#3aad6a"/>
<path d="M459 51.03L460.32 48.75L457.68 48.75Z" fill="#3aad6a"/>
<path d="M462 48.49L463.32 46.21L460.68 46.21Z" fill="#3aad6a"/>
<path d="M465 45.84L466.32 43.56L463.68 43.56Z" fill="#3aad6a"/>
<path d="M468 44.41L469.32 42.13L466.68 42.13Z" fill="#3aad6a"/>
<path d="M471 43.32L472.32 41.04L469.68 41.04Z" fill="#3aad6a"/>
<path d="M474 42.06L475.32 39.78L472.68 39.78Z" fill="#3aad6a"/>
<path d="M477 40.82L478.32 38.54L475.68 38.54Z" fill="#3aad6a"/>
<path d="M480 39.67L481.32 37.39L478.68 37.39Z" fill="#3aad6a"/>
<path d="M483 38.55L484.32 36.27L481.68 36.27Z" fill="#3aad6a"/>
<path d="M486 37.53L487.32 35.25L484.68 35.25Z" fill="#3aad6a"/>
<path d="M489 36.72L490.32 34.44L487.68 34.44Z" fill="#3aad6a"/>
<path d="M492 36.06L493.32 33.78L490.68 33.78Z" fill="#3aad6a"/>
<path d="M495 35.49L496.32 33.21L493.68 33.21Z" fill="#3aad6a"/>
<path d="M498 34.98L499.32 32.7L496.68 32.7Z" fill="#3aad6a"/>
<path d="M501 34.53L502.32 32.25L499.68 32.25Z" fill="#3aad6a"/>
<path d="M504 34.1L505.32 31.82L502.68 31.82Z" fill="#3aad6a"/>
<path d="M507 33.72L508.32 31.44L505.68 31.44Z" fill="#3aad6a"/>
<path d="M510 33.37L511.32 31.09L508.68 31.09Z" fill="#3aad6a"/>
<path d="M513 33.04L514.32 30.76L511.68 30.76Z" fill="#3aad6a"/>
<path d="M516 32.73L517.32 30.45L514.68 30.45Z" fill="#3aad6a"/>
<path d="M519 32.43L520.32 30.15L517.68 30.15Z" fill="#3aad6a"/>
<path d="M522 32.14L523.32 29.86L520.68 29.86Z" fill="#3aad6a"/>
<path d="M525 31.86L526.32 29.58L523.68 29.58Z" fill="#3aad6a"/>
<path d="M528 31.6L529.32 29.32L526.68 29.32Z" fill="#3aad6a"/>
<path d="M531 31.35L532.32 29.07L529.68 29.07Z" fill="#3aad6a"/>
<path d="M534 31.11L535.32 28.83L532.68 28.83Z" fill="#3aad6a"/>
<path d="M537 30.88L538.32 28.6L535.68 28.6Z" fill="#3aad6a"/>
<path d="M540 30.67L541.32 28.39L538.68 28.39Z" fill="#3aad6a"/>
<path d="M543 30.46L544.32 28.18L541.68 28.18Z" fill="#3aad6a"/>
<path d="M546 30.27L547.32 27.99L544.68 27.99Z" fill="#3aad6a"/>
<path d="M549 30.08L550.32 27.8L547.68 27.8Z" fill="#3aad6a"/>
<path d="M552 29.89L553.32 27.61L550.68 27.61Z" fill="#3aad6a"/>
<path d="M555 29.72L556.32 27.44L553.68 27.44Z" fill="#3aad6a"/>
<path d="M558 29.55L559.32 27.27L556.68 27.27Z" fill="#3aad6a"/>
<path d="M561 29.39L562.32 27.11L559.68 27.11Z" fill="#3aad6a"/>
<path d="M436.5 190.41 L436.64 187.48 L436.77 184.59 L436.91 181.76 L437.04 178.97 L437.18 176.23 L437.31 173.54 L437.45 170.9 L437.59 168.31 L437.72 165.78 L437.86 163.31 L437.99 160.89 L438.13 158.52 L438.26 156.16 L438.4 153.83 L438.54 151.54 L438.67 149.3 L438.81 147.11 L438.94 144.98 L439.08 142.92 L439.21 140.93 L439.35 139.04 L439.48 137.24 L439.62 135.52 L439.76 133.84 L439.89 132.2 L440.03 130.59 L440.16 129.03 L440.3 127.5 L440.43 126.01 L440.57 124.55 L440.71 123.12 L440.84 121.73 L440.98 120.36 L441.11 119.01 L441.25 117.7 L441.38 116.4 L441.52 115.13 L441.66 113.89 L441.79 112.66 L441.93 111.45 L442.06 110.25 L442.2 109.07 L442.33 107.91 L442.47 106.77 L442.61 105.65 L442.74 104.54 L442.88 103.46 L443.01 102.39 L443.15 101.34 L443.28 100.31 L443.42 99.3 L443.56 98.31 L443.69 97.34 L443.83 96.39 L443.96 95.46 L444.1 94.55 L444.23 93.67 L444.37 92.8 L444.51 91.95 L444.64 91.12 L444.78 90.29 L444.91 89.48 L445.05 88.68 L445.18 87.9 L445.32 87.12 L445.45 86.36 L445.59 85.62 L445.73 84.89 L445.86 84.18 L446 83.49 L446.13 82.81 L446.27 82.15 L446.4 81.51 L446.54 80.88 L446.68 80.28 L446.81 79.69 L446.95 79.13 L447.08 78.57 L447.22 78.02 L447.35 77.49 L447.49 76.96 L447.63 76.44 L447.76 75.93 L447.9 75.42 L448.03 74.93 L448.17 74.45 L448.3 73.98 L448.44 73.51 L448.58 73.06 L448.71 72.61 L448.85 72.18 L448.98 71.75 L449.12 71.33 L449.25 70.93 L449.39 70.53 L449.53 70.14 L449.66 69.76 L449.8 69.4 L449.93 69.04 L450.07 68.69 L450.2 68.35 L450.34 68.02 L450.47 67.7 L450.61 67.39 L450.75 67.09 L450.88 66.8 L451.02 66.51 L451.15 66.23 L451.29 65.95 L451.42 65.68 L451.56 65.41 L451.7 65.15 L451.83 64.89 L451.97 64.63 L452.1 64.37 L452.24 64.11 L452.37 63.85 L452.51 63.59 L452.65 63.33 L452.78 63.07 L452.92 62.8 L453.05 62.53 L453.19 62.26 L453.32 61.99 L453.46 61.71 L453.6 61.43 L453.73 61.16 L453.87 60.88 L454 60.61 L454.14 60.33 L454.27 60.05 L454.41 59.78 L454.55 59.51 L454.68 59.24 L454.82 58.97 L454.95 58.7 L455.09 58.44 L455.22 58.17 L455.36 57.91 L455.49 57.66 L455.63 57.4 L455.77 57.15 L455.9 56.91 L456.04 56.66 L456.17 56.42 L456.31 56.17 L456.44 55.92 L456.58 55.67 L456.72 55.43 L456.85 55.18 L456.99 54.94 L457.12 54.7 L457.26 54.46 L457.39 54.23 L457.53 54 L457.67 53.77 L457.8 53.55 L457.94 53.33 L458.07 53.12 L458.21 52.91 L458.34 52.71 L458.48 52.52 L458.62 52.33 L458.75 52.15 L458.89 51.98 L459.02 51.81 L459.16 51.65 L459.29 51.49 L459.43 51.33 L459.57 51.18 L459.7 51.03 L459.84 50.88 L459.97 50.74 L460.11 50.6 L460.24 50.46 L460.38 50.33 L460.52 50.2 L460.65 50.06 L460.79 49.94 L460.92 49.81 L461.06 49.68 L461.19 49.56 L461.33 49.43 L461.46 49.31 L461.6 49.19 L461.74 49.07 L461.87 48.94 L462.01 48.82 L462.14 48.7 L462.28 48.58 L462.41 48.46 L462.55 48.33 L462.69 48.21 L462.82 48.08 L462.96 47.95 L463.09 47.83 L463.23 47.7 L463.36 47.57 L463.5 47.44 L463.5 47.44 L464.07 46.9 L464.65 46.39 L465.22 45.95 L465.79 45.6 L466.36 45.32 L466.94 45.08 L467.51 44.87 L468.08 44.68 L468.66 44.49 L469.23 44.29 L469.8 44.08 L470.37 43.84 L470.95 43.59 L471.52 43.33 L472.09 43.06 L472.67 42.79 L473.24 42.51 L473.81 42.23 L474.38 41.95 L474.96 41.67 L475.53 41.39 L476.1 41.12 L476.68 40.86 L477.25 40.61 L477.82 40.37 L478.39 40.15 L478.97 39.93 L479.54 39.72 L480.11 39.51 L480.69 39.31 L481.26 39.11 L481.83 38.91 L482.4 38.72 L482.98 38.53 L483.55 38.34 L484.12 38.16 L484.7 37.99 L485.27 37.81 L485.84 37.65 L486.41 37.48 L486.99 37.33 L487.56 37.18 L488.13 37.03 L488.71 36.89 L489.28 36.75 L489.85 36.61 L490.42 36.48 L491 36.35 L491.57 36.22 L492.14 36.1 L492.72 35.98 L493.29 35.86 L493.86 35.74 L494.43 35.63 L495.01 35.51 L495.58 35.4 L496.15 35.29 L496.73 35.18 L497.3 35.08 L497.87 34.97 L498.44 34.87 L499.02 34.77 L499.59 34.67 L500.16 34.57 L500.74 34.47 L501.31 34.38 L501.88 34.28 L502.45 34.18 L503.03 34.09 L503.6 34 L504.17 33.9 L504.75 33.81 L505.32 33.72 L505.89 33.63 L506.46 33.54 L507.04 33.45 L507.61 33.36 L508.18 33.28 L508.76 33.19 L509.33 33.11 L509.9 33.02 L510.47 32.94 L511.05 32.86 L511.62 32.78 L512.19 32.7 L512.77 32.62 L513.34 32.55 L513.91 32.47 L514.48 32.4 L515.06 32.33 L515.63 32.26 L516.2 32.19 L516.78 32.12 L517.35 32.05 L517.92 31.99 L518.49 31.92 L519.07 31.86 L519.64 31.8 L520.21 31.74 L520.79 31.67 L521.36 31.62 L521.93 31.56 L522.51 31.5 L523.08 31.44 L523.65 31.39 L524.22 31.33 L524.8 31.28 L525.37 31.22 L525.94 31.17 L526.52 31.12 L527.09 31.07 L527.66 31.02 L528.23 30.97 L528.81 30.92 L529.38 30.87 L529.95 30.82 L530.53 30.78 L531.1 30.73 L531.67 30.68 L532.24 30.64 L532.82 30.59 L533.39 30.55 L533.96 30.51 L534.54 30.46 L535.11 30.42 L535.68 30.38 L536.25 30.34 L536.83 30.3 L537.4 30.26 L537.97 30.22 L538.55 30.18 L539.12 30.15 L539.69 30.11 L540.26 30.07 L540.84 30.03 L541.41 30 L541.98 29.96 L542.56 29.92 L543.13 29.89 L543.7 29.85 L544.27 29.82 L544.85 29.78 L545.42 29.75 L545.99 29.71 L546.57 29.68 L547.14 29.64 L547.71 29.61 L548.28 29.57 L548.86 29.54 L549.43 29.5 L550 29.47 L550.58 29.43 L551.15 29.4 L551.72 29.37 L552.29 29.33 L552.87 29.3 L553.44 29.26 L554.01 29.23 L554.59 29.2 L555.16 29.16 L555.73 29.13 L556.3 29.1 L556.88 29.07 L557.45 29.04 L558.02 29.01 L558.6 28.98 L559.17 28.95 L559.74 28.92 L560.31 28.89 L560.89 28.86 L561.46 28.83 L562.03 28.8 L562.61 28.78 L563.18 28.75 L563.75 28.72 L564.32 28.7 L564.9 28.67 L565.47 28.65 L566.04 28.62 L566.62 28.6 L567.19 28.57 L567.76 28.55 L568.33 28.52 L568.91 28.5 L569.48 28.48 L570.05 28.45 L570.63 28.43 L571.2 28.41 L571.77 28.39 L572.34 28.37 L572.92 28.34 L573.49 28.32 L574.06 28.3 L574.64 28.28 L575.21 28.26 L575.78 28.24 L576.35 28.22 L576.93 28.21 L577.5 28.19" fill="none" stroke="#b07ce6" stroke-width="0.95"/>
<path d="M436.5 189.03L437.7 190.41L436.5 191.79L435.3 190.41Z" fill="#b07ce6"/>
<path d="M438 159.38L439.2 160.76L438 162.14L436.8 160.76Z" fill="#b07ce6"/>
<path d="M441 118.75L442.2 120.13L441 121.51L439.8 120.13Z" fill="#b07ce6"/>
<path d="M444 93.83L445.2 95.21L444 96.59L442.8 95.21Z" fill="#b07ce6"/>
<path d="M447 77.53L448.2 78.91L447 80.29L445.8 78.91Z" fill="#b07ce6"/>
<path d="M450 67.48L451.2 68.86L450 70.24L448.8 68.86Z" fill="#b07ce6"/>
<path d="M453 61.26L454.2 62.64L453 64.02L451.8 62.64Z" fill="#b07ce6"/>
<path d="M456 55.35L457.2 56.73L456 58.11L454.8 56.73Z" fill="#b07ce6"/>
<path d="M459 50.46L460.2 51.84L459 53.22L457.8 51.84Z" fill="#b07ce6"/>
<path d="M462 47.45L463.2 48.83L462 50.21L460.8 48.83Z" fill="#b07ce6"/>
<path d="M465 44.73L466.2 46.11L465 47.49L463.8 46.11Z" fill="#b07ce6"/>
<path d="M468 43.32L469.2 44.7L468 46.08L466.8 44.7Z" fill="#b07ce6"/>
<path d="M471 42.19L472.2 43.57L471 44.95L469.8 43.57Z" fill="#b07ce6"/>
<path d="M474 40.75L475.2 42.13L474 43.51L472.8 42.13Z" fill="#b07ce6"/>
<path d="M477 39.34L478.2 40.72L477 42.1L475.8 40.72Z" fill="#b07ce6"/>
<path d="M480 38.17L481.2 39.55L480 40.93L478.8 39.55Z" fill="#b07ce6"/>
<path d="M483 37.14L484.2 38.52L483 39.9L481.8 38.52Z" fill="#b07ce6"/>
<path d="M486 36.22L487.2 37.6L486 38.98L484.8 37.6Z" fill="#b07ce6"/>
<path d="M489 35.44L490.2 36.82L489 38.2L487.8 36.82Z" fill="#b07ce6"/>
<path d="M492 34.75L493.2 36.13L492 37.51L490.8 36.13Z" fill="#b07ce6"/>
<path d="M495 34.13L496.2 35.51L495 36.89L493.8 35.51Z" fill="#b07ce6"/>
<path d="M498 33.57L499.2 34.95L498 36.33L496.8 34.95Z" fill="#b07ce6"/>
<path d="M501 33.05L502.2 34.43L501 35.81L499.8 34.43Z" fill="#b07ce6"/>
<path d="M504 32.55L505.2 33.93L504 35.31L502.8 33.93Z" fill="#b07ce6"/>
<path d="M507 32.08L508.2 33.46L507 34.84L505.8 33.46Z" fill="#b07ce6"/>
<path d="M510 31.63L511.2 33.01L510 34.39L508.8 33.01Z" fill="#b07ce6"/>
<path d="M513 31.21L514.2 32.59L513 33.97L511.8 32.59Z" fill="#b07ce6"/>
<path d="M516 30.83L517.2 32.21L516 33.59L514.8 32.21Z" fill="#b07ce6"/>
<path d="M519 30.49L520.2 31.87L519 33.25L517.8 31.87Z" fill="#b07ce6"/>
<path d="M522 30.17L523.2 31.55L522 32.93L520.8 31.55Z" fill="#b07ce6"/>
<path d="M525 29.88L526.2 31.26L525 32.64L523.8 31.26Z" fill="#b07ce6"/>
<path d="M528 29.61L529.2 30.99L528 32.37L526.8 30.99Z" fill="#b07ce6"/>
<path d="M531 29.36L532.2 30.74L531 32.12L529.8 30.74Z" fill="#b07ce6"/>
<path d="M534 29.12L535.2 30.5L534 31.88L532.8 30.5Z" fill="#b07ce6"/>
<path d="M537 28.91L538.2 30.29L537 31.67L535.8 30.29Z" fill="#b07ce6"/>
<path d="M540 28.71L541.2 30.09L540 31.47L538.8 30.09Z" fill="#b07ce6"/>
<path d="M543 28.52L544.2 29.9L543 31.28L541.8 29.9Z" fill="#b07ce6"/>
<path d="M546 28.33L547.2 29.71L546 31.09L544.8 29.71Z" fill="#b07ce6"/>
<path d="M549 28.15L550.2 29.53L549 30.91L547.8 29.53Z" fill="#b07ce6"/>
<path d="M552 27.97L553.2 29.35L552 30.73L550.8 29.35Z" fill="#b07ce6"/>
<path d="M555 27.79L556.2 29.17L555 30.55L553.8 29.17Z" fill="#b07ce6"/>
<path d="M558 27.63L559.2 29.01L558 30.39L556.8 29.01Z" fill="#b07ce6"/>
<path d="M561 27.47L562.2 28.85L561 30.23L559.8 28.85Z" fill="#b07ce6"/>
<path d="M564 27.33L565.2 28.71L564 30.09L562.8 28.71Z" fill="#b07ce6"/>
<path d="M567 27.2L568.2 28.58L567 29.96L565.8 28.58Z" fill="#b07ce6"/>
<path d="M570 27.08L571.2 28.46L570 29.84L568.8 28.46Z" fill="#b07ce6"/>
<path d="M573 26.96L574.2 28.34L573 29.72L571.8 28.34Z" fill="#b07ce6"/>
<path d="M576 26.86L577.2 28.24L576 29.62L574.8 28.24Z" fill="#b07ce6"/>
<path d="M436.5 196.93 L436.64 195.14 L436.77 193.37 L436.91 191.63 L437.04 189.91 L437.18 188.23 L437.31 186.59 L437.45 185 L437.59 183.46 L437.72 181.98 L437.86 180.56 L437.99 179.21 L438.13 177.94 L438.26 176.72 L438.4 175.55 L438.54 174.43 L438.67 173.35 L438.81 172.31 L438.94 171.3 L439.08 170.32 L439.21 169.35 L439.35 168.4 L439.48 167.45 L439.62 166.51 L439.76 165.56 L439.89 164.61 L440.03 163.64 L440.16 162.65 L440.3 161.64 L440.43 160.59 L440.57 159.51 L440.71 158.39 L440.84 157.22 L440.98 155.99 L441.11 154.7 L441.25 153.33 L441.38 151.9 L441.52 150.4 L441.66 148.85 L441.79 147.25 L441.93 145.61 L442.06 143.93 L442.2 142.22 L442.33 140.48 L442.47 138.73 L442.61 136.96 L442.74 135.19 L442.88 133.43 L443.01 131.67 L443.15 129.92 L443.28 128.19 L443.42 126.49 L443.56 124.82 L443.69 123.2 L443.83 121.61 L443.96 120.08 L444.1 118.61 L444.23 117.2 L444.37 115.86 L444.51 114.6 L444.64 113.43 L444.78 112.33 L444.91 111.28 L445.05 110.27 L445.18 109.26 L445.32 108.23 L445.45 107.18 L445.59 106.1 L445.73 105.02 L445.86 103.92 L446 102.83 L446.13 101.73 L446.27 100.64 L446.4 99.55 L446.54 98.48 L446.68 97.43 L446.81 96.4 L446.95 95.4 L447.08 94.43 L447.22 93.49 L447.35 92.59 L447.49 91.74 L447.63 90.9 L447.76 90.08 L447.9 89.26 L448.03 88.46 L448.17 87.68 L448.3 86.9 L448.44 86.14 L448.58 85.4 L448.71 84.66 L448.85 83.95 L448.98 83.25 L449.12 82.57 L449.25 81.9 L449.39 81.26 L449.53 80.63 L449.66 80.02 L449.8 79.43 L449.93 78.86 L450.07 78.31 L450.2 77.79 L450.34 77.28 L450.47 76.78 L450.61 76.3 L450.75 75.83 L450.88 75.38 L451.02 74.93 L451.15 74.5 L451.29 74.08 L451.42 73.67 L451.56 73.26 L451.7 72.86 L451.83 72.47 L451.97 72.08 L452.1 71.7 L452.24 71.32 L452.37 70.95 L452.51 70.57 L452.65 70.2 L452.78 69.83 L452.92 69.45 L453.05 69.07 L453.19 68.69 L453.32 68.31 L453.46 67.94 L453.6 67.56 L453.73 67.18 L453.87 66.81 L454 66.44 L454.14 66.07 L454.27 65.71 L454.41 65.35 L454.55 64.99 L454.68 64.64 L454.82 64.29 L454.95 63.94 L455.09 63.6 L455.22 63.27 L455.36 62.94 L455.49 62.62 L455.63 62.3 L455.77 61.99 L455.9 61.69 L456.04 61.39 L456.17 61.09 L456.31 60.79 L456.44 60.49 L456.58 60.2 L456.72 59.91 L456.85 59.62 L456.99 59.34 L457.12 59.06 L457.26 58.79 L457.39 58.52 L457.53 58.26 L457.67 58 L457.8 57.75 L457.94 57.51 L458.07 57.28 L458.21 57.05 L458.34 56.84 L458.48 56.63 L458.62 56.43 L458.75 56.24 L458.89 56.06 L459.02 55.88 L459.16 55.7 L459.29 55.53 L459.43 55.36 L459.57 55.2 L459.7 55.04 L459.84 54.88 L459.97 54.73 L460.11 54.58 L460.24 54.43 L460.38 54.29 L460.52 54.14 L460.65 54 L460.79 53.86 L460.92 53.72 L461.06 53.58 L461.19 53.44 L461.33 53.3 L461.46 53.17 L461.6 53.03 L461.74 52.89 L461.87 52.75 L462.01 52.61 L462.14 52.47 L462.28 52.32 L462.41 52.18 L462.55 52.04 L462.69 51.89 L462.82 51.75 L462.96 51.61 L463.09 51.46 L463.23 51.32 L463.36 51.18 L463.5 51.04 L463.5 51.04 L464.21 50.34 L464.92 49.71 L465.63 49.18 L466.33 48.71 L467.04 48.27 L467.75 47.87 L468.46 47.49 L469.17 47.11 L469.88 46.73 L470.59 46.33 L471.29 45.93 L472 45.52 L472.71 45.12 L473.42 44.72 L474.13 44.33 L474.84 43.94 L475.55 43.57 L476.25 43.21 L476.96 42.86 L477.67 42.53 L478.38 42.23 L479.09 41.94 L479.8 41.67 L480.51 41.4 L481.21 41.15 L481.92 40.9 L482.63 40.66 L483.34 40.43 L484.05 40.2 L484.76 39.98 L485.46 39.77 L486.17 39.56 L486.88 39.35 L487.59 39.15 L488.3 38.95 L489.01 38.75 L489.72 38.55 L490.42 38.36 L491.13 38.17 L491.84 37.98 L492.55 37.79 L493.26 37.61 L493.97 37.43 L494.68 37.25 L495.38 37.07 L496.09 36.9 L496.8 36.73 L497.51 36.57 L498.22 36.41 L498.93 36.25 L499.64 36.1 L500.34 35.96 L501.05 35.81 L501.76 35.68 L502.47 35.55 L503.18 35.42 L503.89 35.29 L504.6 35.17 L505.3 35.05 L506.01 34.93 L506.72 34.81 L507.43 34.7 L508.14 34.59 L508.85 34.48 L509.56 34.37 L510.26 34.27 L510.97 34.17 L511.68 34.07 L512.39 33.97 L513.1 33.88 L513.81 33.78 L514.52 33.69 L515.22 33.61 L515.93 33.52 L516.64 33.44 L517.35 33.35 L518.06 33.28 L518.77 33.2 L519.47 33.12 L520.18 33.05 L520.89 32.98 L521.6 32.91 L522.31 32.84 L523.02 32.77 L523.73 32.71 L524.43 32.65 L525.14 32.58 L525.85 32.52 L526.56 32.46 L527.27 32.4 L527.98 32.34 L528.69 32.29 L529.39 32.23 L530.1 32.17 L530.81 32.12 L531.52 32.06 L532.23 32 L532.94 31.95 L533.65 31.89 L534.35 31.84 L535.06 31.78 L535.77 31.73 L536.48 31.67 L537.19 31.62 L537.9 31.56 L538.61 31.51 L539.31 31.46 L540.02 31.41 L540.73 31.35 L541.44 31.3 L542.15 31.26 L542.86 31.21 L543.57 31.16 L544.27 31.11 L544.98 31.07 L545.69 31.03 L546.4 30.99 L547.11 30.95 L547.82 30.91 L548.53 30.87 L549.23 30.83 L549.94 30.8 L550.65 30.76 L551.36 30.73 L552.07 30.7 L552.78 30.66 L553.48 30.63 L554.19 30.6 L554.9 30.57 L555.61 30.54 L556.32 30.51 L557.03 30.48 L557.74 30.45 L558.44 30.42 L559.15 30.39 L559.86 30.37 L560.57 30.34 L561.28 30.31 L561.99 30.28 L562.7 30.26 L563.4 30.23 L564.11 30.2 L564.82 30.17 L565.53 30.14 L566.24 30.12 L566.95 30.09 L567.66 30.06 L568.36 30.03 L569.07 30 L569.78 29.97 L570.49 29.94 L571.2 29.92 L571.91 29.89 L572.62 29.86 L573.32 29.83 L574.03 29.8 L574.74 29.77 L575.45 29.75 L576.16 29.72 L576.87 29.69 L577.58 29.66 L578.28 29.63 L578.99 29.61 L579.7 29.58 L580.41 29.55 L581.12 29.52 L581.83 29.5 L582.54 29.47 L583.24 29.44 L583.95 29.42 L584.66 29.39 L585.37 29.36 L586.08 29.34 L586.79 29.31 L587.49 29.28 L588.2 29.26 L588.91 29.23 L589.62 29.2 L590.33 29.18 L591.04 29.15 L591.75 29.12 L592.45 29.1 L593.16 29.07 L593.87 29.04 L594.58 29.02 L595.29 28.99 L596 28.97 L596.71 28.94 L597.41 28.92 L598.12 28.89 L598.83 28.86 L599.54 28.84 L600.25 28.81 L600.96 28.79 L601.67 28.76 L602.37 28.74 L603.08 28.71 L603.79 28.69 L604.5 28.66" fill="none" stroke="#d6a019" stroke-width="0.95"/>
<path d="M435.07 196.93L437.54 195.5L437.54 198.36Z" fill="#d6a019"/>
<path d="M436.57 179.14L439.04 177.71L439.04 180.57Z" fill="#d6a019"/>
<path d="M439.57 155.78L442.04 154.35L442.04 157.21Z" fill="#d6a019"/>
<path d="M442.57 119.67L445.04 118.24L445.04 121.1Z" fill="#d6a019"/>
<path d="M445.57 95.02L448.04 93.59L448.04 96.45Z" fill="#d6a019"/>
<path d="M448.57 78.58L451.04 77.15L451.04 80.01Z" fill="#d6a019"/>
<path d="M451.57 69.22L454.04 67.79L454.04 70.65Z" fill="#d6a019"/>
<path d="M454.57 61.47L457.04 60.04L457.04 62.9Z" fill="#d6a019"/>
<path d="M457.57 55.91L460.04 54.48L460.04 57.34Z" fill="#d6a019"/>
<path d="M460.57 52.62L463.04 51.19L463.04 54.05Z" fill="#d6a019"/>
<path d="M463.57 49.65L466.04 48.22L466.04 51.08Z" fill="#d6a019"/>
<path d="M466.57 47.74L469.04 46.31L469.04 49.17Z" fill="#d6a019"/>
<path d="M469.57 46.09L472.04 44.66L472.04 47.52Z" fill="#d6a019"/>
<path d="M472.57 44.4L475.04 42.97L475.04 45.83Z" fill="#d6a019"/>
<path d="M475.57 42.84L478.04 41.41L478.04 44.27Z" fill="#d6a019"/>
<path d="M478.57 41.59L481.04 40.16L481.04 43.02Z" fill="#d6a019"/>
<path d="M481.57 40.54L484.04 39.11L484.04 41.97Z" fill="#d6a019"/>
<path d="M484.57 39.61L487.04 38.18L487.04 41.04Z" fill="#d6a019"/>
<path d="M487.57 38.75L490.04 37.32L490.04 40.18Z" fill="#d6a019"/>
<path d="M490.57 37.94L493.04 36.51L493.04 39.37Z" fill="#d6a019"/>
<path d="M493.57 37.17L496.04 35.74L496.04 38.6Z" fill="#d6a019"/>
<path d="M496.57 36.46L499.04 35.03L499.04 37.89Z" fill="#d6a019"/>
<path d="M499.57 35.82L502.04 34.39L502.04 37.25Z" fill="#d6a019"/>
<path d="M502.57 35.27L505.04 33.84L505.04 36.7Z" fill="#d6a019"/>
<path d="M505.57 34.77L508.04 33.34L508.04 36.2Z" fill="#d6a019"/>
<path d="M508.57 34.31L511.04 32.88L511.04 35.74Z" fill="#d6a019"/>
<path d="M511.57 33.89L514.04 32.46L514.04 35.32Z" fill="#d6a019"/>
<path d="M514.57 33.51L517.04 32.08L517.04 34.94Z" fill="#d6a019"/>
<path d="M517.57 33.17L520.04 31.74L520.04 34.6Z" fill="#d6a019"/>
<path d="M520.57 32.87L523.04 31.44L523.04 34.3Z" fill="#d6a019"/>
<path d="M523.57 32.6L526.04 31.17L526.04 34.03Z" fill="#d6a019"/>
<path d="M526.57 32.34L529.04 30.91L529.04 33.77Z" fill="#d6a019"/>
<path d="M529.57 32.1L532.04 30.67L532.04 33.53Z" fill="#d6a019"/>
<path d="M532.57 31.86L535.04 30.43L535.04 33.29Z" fill="#d6a019"/>
<path d="M535.57 31.63L538.04 30.2L538.04 33.06Z" fill="#d6a019"/>
<path d="M538.57 31.41L541.04 29.98L541.04 32.84Z" fill="#d6a019"/>
<path d="M541.57 31.2L544.04 29.77L544.04 32.63Z" fill="#d6a019"/>
<path d="M544.57 31.01L547.04 29.58L547.04 32.44Z" fill="#d6a019"/>
<path d="M547.57 30.84L550.04 29.41L550.04 32.27Z" fill="#d6a019"/>
<path d="M550.57 30.7L553.04 29.27L553.04 32.13Z" fill="#d6a019"/>
<path d="M553.57 30.56L556.04 29.13L556.04 31.99Z" fill="#d6a019"/>
<path d="M556.57 30.44L559.04 29.01L559.04 31.87Z" fill="#d6a019"/>
<path d="M559.57 30.32L562.04 28.89L562.04 31.75Z" fill="#d6a019"/>
<path d="M562.57 30.2L565.04 28.77L565.04 31.63Z" fill="#d6a019"/>
<path d="M565.57 30.09L568.04 28.66L568.04 31.52Z" fill="#d6a019"/>
<path d="M568.57 29.96L571.04 28.53L571.04 31.39Z" fill="#d6a019"/>
<path d="M571.57 29.84L574.04 28.41L574.04 31.27Z" fill="#d6a019"/>
<path d="M574.57 29.72L577.04 28.29L577.04 31.15Z" fill="#d6a019"/>
<path d="M577.57 29.61L580.04 28.18L580.04 31.04Z" fill="#d6a019"/>
<path d="M580.57 29.49L583.04 28.06L583.04 30.92Z" fill="#d6a019"/>
<path d="M583.57 29.38L586.04 27.95L586.04 30.81Z" fill="#d6a019"/>
<path d="M586.57 29.26L589.04 27.83L589.04 30.69Z" fill="#d6a019"/>
<path d="M589.57 29.15L592.04 27.72L592.04 30.58Z" fill="#d6a019"/>
<path d="M592.57 29.04L595.04 27.61L595.04 30.47Z" fill="#d6a019"/>
<path d="M595.57 28.93L598.04 27.5L598.04 30.36Z" fill="#d6a019"/>
<path d="M598.57 28.82L601.04 27.39L601.04 30.25Z" fill="#d6a019"/>
<path d="M601.57 28.72L604.04 27.29L604.04 30.15Z" fill="#d6a019"/>
<path d="M418.9 6 V199.45 H658.6" fill="none" stroke="#353535" stroke-width="1.2"/>
<line x1="418.9" y1="193.37" x2="420.7" y2="193.37" stroke="#383838" stroke-width="1.1"/>
<line x1="418.9" y1="181.51" x2="422.5" y2="181.51" stroke="#383838" stroke-width="1.1"/>
<text x="414.5" y="185.41" text-anchor="end" font-size="11.3">0.8</text>
<line x1="418.9" y1="169.65" x2="420.7" y2="169.65" stroke="#383838" stroke-width="1.1"/>
<line x1="418.9" y1="157.8" x2="422.5" y2="157.8" stroke="#383838" stroke-width="1.1"/>
<text x="414.5" y="161.7" text-anchor="end" font-size="11.3">1.2</text>
<line x1="418.9" y1="145.94" x2="420.7" y2="145.94" stroke="#383838" stroke-width="1.1"/>
<line x1="418.9" y1="134.08" x2="422.5" y2="134.08" stroke="#383838" stroke-width="1.1"/>
<text x="414.5" y="137.98" text-anchor="end" font-size="11.3">1.6</text>
<line x1="418.9" y1="122.22" x2="420.7" y2="122.22" stroke="#383838" stroke-width="1.1"/>
<line x1="418.9" y1="110.36" x2="422.5" y2="110.36" stroke="#383838" stroke-width="1.1"/>
<text x="414.5" y="114.26" text-anchor="end" font-size="11.3">2.0</text>
<line x1="418.9" y1="98.51" x2="420.7" y2="98.51" stroke="#383838" stroke-width="1.1"/>
<line x1="418.9" y1="86.65" x2="422.5" y2="86.65" stroke="#383838" stroke-width="1.1"/>
<text x="414.5" y="90.55" text-anchor="end" font-size="11.3">2.4</text>
<line x1="418.9" y1="74.79" x2="420.7" y2="74.79" stroke="#383838" stroke-width="1.1"/>
<line x1="418.9" y1="62.93" x2="422.5" y2="62.93" stroke="#383838" stroke-width="1.1"/>
<text x="414.5" y="66.83" text-anchor="end" font-size="11.3">2.8</text>
<line x1="418.9" y1="51.07" x2="420.7" y2="51.07" stroke="#383838" stroke-width="1.1"/>
<line x1="418.9" y1="39.22" x2="422.5" y2="39.22" stroke="#383838" stroke-width="1.1"/>
<text x="414.5" y="43.12" text-anchor="end" font-size="11.3">3.2</text>
<line x1="418.9" y1="27.36" x2="420.7" y2="27.36" stroke="#383838" stroke-width="1.1"/>
<line x1="418.9" y1="15.5" x2="422.5" y2="15.5" stroke="#383838" stroke-width="1.1"/>
<text x="414.5" y="19.4" text-anchor="end" font-size="11.3">3.6</text>
<line x1="433.5" y1="199.45" x2="433.5" y2="196.15" stroke="#383838" stroke-width="1.1"/>
<text x="433.5" y="212.6" text-anchor="middle" font-size="11.3">0</text>
<line x1="448.5" y1="199.45" x2="448.5" y2="197.75" stroke="#383838" stroke-width="1.1"/>
<line x1="463.5" y1="199.45" x2="463.5" y2="196.15" stroke="#383838" stroke-width="1.1"/>
<text x="463.5" y="212.6" text-anchor="middle" font-size="11.3">20</text>
<line x1="478.5" y1="199.45" x2="478.5" y2="197.75" stroke="#383838" stroke-width="1.1"/>
<line x1="493.5" y1="199.45" x2="493.5" y2="196.15" stroke="#383838" stroke-width="1.1"/>
<text x="493.5" y="212.6" text-anchor="middle" font-size="11.3">40</text>
<line x1="508.5" y1="199.45" x2="508.5" y2="197.75" stroke="#383838" stroke-width="1.1"/>
<line x1="523.5" y1="199.45" x2="523.5" y2="196.15" stroke="#383838" stroke-width="1.1"/>
<text x="523.5" y="212.6" text-anchor="middle" font-size="11.3">60</text>
<line x1="538.5" y1="199.45" x2="538.5" y2="197.75" stroke="#383838" stroke-width="1.1"/>
<line x1="553.5" y1="199.45" x2="553.5" y2="196.15" stroke="#383838" stroke-width="1.1"/>
<text x="553.5" y="212.6" text-anchor="middle" font-size="11.3">80</text>
<line x1="568.5" y1="199.45" x2="568.5" y2="197.75" stroke="#383838" stroke-width="1.1"/>
<line x1="583.5" y1="199.45" x2="583.5" y2="196.15" stroke="#383838" stroke-width="1.1"/>
<text x="583.5" y="212.6" text-anchor="middle" font-size="11.3">100</text>
<line x1="598.5" y1="199.45" x2="598.5" y2="197.75" stroke="#383838" stroke-width="1.1"/>
<line x1="613.5" y1="199.45" x2="613.5" y2="196.15" stroke="#383838" stroke-width="1.1"/>
<text x="613.5" y="212.6" text-anchor="middle" font-size="11.3">120</text>
<line x1="628.5" y1="199.45" x2="628.5" y2="197.75" stroke="#383838" stroke-width="1.1"/>
<line x1="643.5" y1="199.45" x2="643.5" y2="196.15" stroke="#383838" stroke-width="1.1"/>
<text x="643.5" y="212.6" text-anchor="middle" font-size="11.3">140</text>
<line x1="658.5" y1="199.45" x2="658.5" y2="197.75" stroke="#383838" stroke-width="1.1"/>
<text x="495.8" y="225" font-size="14.7">Aperture (nm<tspan dx="1.2">)</tspan></text>
<text transform="translate(397.6 103) rotate(-90)" text-anchor="middle" font-size="14.8">Critical pressure (MPa)</text>
<line x1="502" y1="38.1" x2="524" y2="50.1" stroke="#ee2020" stroke-width="1.3"/>
<path d="M529.6 53.2 L521.9 52.2 L524.6 47.3 Z" fill="#ee2020"/>
<line x1="461.7" y1="156.0" x2="478.2" y2="156.0" stroke="#5a5a5a" stroke-width="1.1" opacity="0.55"/>
<circle cx="469.95" cy="156" r="1.5" fill="#fff" stroke="#5a5a5a" stroke-width="0.7"/>
<text x="481.8" y="159" font-size="12.6">27.3°</text>
<line x1="538.2" y1="156.0" x2="554.3" y2="156.0" stroke="#f05a5a" stroke-width="1.1" opacity="0.55"/>
<circle cx="546.25" cy="156" r="1.5" fill="#fff" stroke="#f05a5a" stroke-width="0.7"/>
<text x="558.0" y="159" font-size="12.6">37.9°</text>
<line x1="592.0" y1="156.0" x2="608.3" y2="156.0" stroke="#4f84e6" stroke-width="1.1" opacity="0.55"/>
<path d="M600.15 154.24L601.91 157.28L598.39 157.28Z" fill="#fff" stroke="#4f84e6" stroke-width="0.7"/>
<text x="611.6" y="159" font-size="12.6">46.8°</text>
<line x1="461.7" y1="172.0" x2="478.2" y2="172.0" stroke="#3aad6a" stroke-width="1.1" opacity="0.55"/>
<path d="M469.95 173.98L471.93 170.56L467.97 170.56Z" fill="#3aad6a"/>
<text x="481.8" y="175" font-size="12.6">58.5°</text>
<line x1="538.2" y1="172.0" x2="554.3" y2="172.0" stroke="#b07ce6" stroke-width="1.1" opacity="0.55"/>
<path d="M546.25 169.93L548.05 172L546.25 174.07L544.45 172Z" fill="#b07ce6"/>
<text x="558.0" y="175" font-size="12.6">84.9°</text>
<line x1="592.0" y1="172.0" x2="608.3" y2="172.0" stroke="#d6a019" stroke-width="1.1" opacity="0.55"/>
<path d="M598.06 172L601.67 169.91L601.67 174.09Z" fill="#d6a019"/>
<text x="611.6" y="175" font-size="12.6">105.1°</text>
<line x1="461.8" y1="187.8" x2="478" y2="187.8" stroke="#ee2a2a" stroke-width="1.1" stroke-dasharray="3.4 2.9"/>
<text x="481.8" y="190.8" font-size="12.6">Bulk phase</text>
<defs><clipPath id="ic"><rect x="486" y="57.4" width="164.4" height="72.3"/></clipPath></defs>
<rect x="485.8" y="57" width="164.9" height="73" fill="#fff"/>
<g clip-path="url(#ic)">
<line x1="489.8" y1="61.2" x2="650" y2="61.2" stroke="#ee2a2a" stroke-width="0.9" stroke-dasharray="3 3.45"/>
<path d="M485.3 78.97 L485.42 78.82 L485.54 78.67 L485.66 78.52 L485.77 78.37 L485.89 78.23 L486.01 78.08 L486.13 77.93 L486.25 77.79 L486.36 77.64 L486.48 77.5 L486.6 77.36 L486.72 77.21 L486.84 77.07 L486.95 76.93 L487.07 76.79 L487.19 76.66 L487.31 76.52 L487.43 76.38 L487.54 76.24 L487.66 76.1 L487.78 75.97 L487.9 75.83 L488.02 75.69 L488.13 75.56 L488.25 75.42 L488.37 75.28 L488.49 75.15 L488.61 75.02 L488.73 74.88 L488.84 74.75 L488.96 74.62 L489.08 74.49 L489.2 74.36 L489.32 74.24 L489.43 74.11 L489.55 73.99 L489.67 73.87 L489.79 73.75 L489.91 73.63 L490.02 73.51 L490.14 73.4 L490.26 73.28 L490.38 73.17 L490.5 73.07 L490.61 72.96 L490.73 72.85 L490.85 72.75 L490.97 72.65 L491.09 72.55 L491.2 72.45 L491.32 72.35 L491.44 72.25 L491.56 72.16 L491.68 72.06 L491.8 71.96 L491.91 71.87 L492.03 71.77 L492.15 71.68 L492.27 71.58 L492.39 71.48 L492.5 71.39 L492.62 71.29 L492.74 71.19 L492.86 71.1 L492.98 71 L493.09 70.9 L493.21 70.79 L493.33 70.69 L493.45 70.58 L493.57 70.48 L493.68 70.37 L493.8 70.26 L493.92 70.15 L494.04 70.04 L494.16 69.92 L494.27 69.81 L494.39 69.7 L494.51 69.59 L494.63 69.47 L494.75 69.36 L494.87 69.25 L494.98 69.14 L495.1 69.04 L495.22 68.93 L495.34 68.83 L495.46 68.72 L495.57 68.63 L495.69 68.53 L495.81 68.43 L495.93 68.34 L496.05 68.26 L496.16 68.17 L496.28 68.09 L496.4 68.01 L496.52 67.94 L496.64 67.86 L496.75 67.79 L496.87 67.72 L496.99 67.65 L497.11 67.59 L497.23 67.52 L497.35 67.46 L497.46 67.39 L497.58 67.33 L497.7 67.27 L497.82 67.21 L497.94 67.15 L498.05 67.09 L498.17 67.03 L498.29 66.96 L498.41 66.9 L498.53 66.84 L498.64 66.78 L498.76 66.72 L498.88 66.66 L499 66.6 L499.12 66.53 L499.23 66.47 L499.35 66.4 L499.47 66.34 L499.59 66.27 L499.71 66.2 L499.82 66.14 L499.94 66.07 L500.06 66 L500.18 65.94 L500.3 65.87 L500.42 65.8 L500.53 65.73 L500.65 65.66 L500.77 65.6 L500.89 65.53 L501.01 65.46 L501.12 65.4 L501.24 65.33 L501.36 65.27 L501.48 65.2 L501.6 65.14 L501.71 65.08 L501.83 65.01 L501.95 64.95 L502.07 64.89 L502.19 64.83 L502.3 64.77 L502.42 64.72 L502.54 64.66 L502.66 64.6 L502.78 64.55 L502.89 64.49 L503.01 64.43 L503.13 64.38 L503.25 64.32 L503.37 64.27 L503.49 64.21 L503.6 64.16 L503.72 64.11 L503.84 64.05 L503.96 64 L504.08 63.95 L504.19 63.9 L504.31 63.85 L504.43 63.8 L504.55 63.75 L504.67 63.7 L504.78 63.65 L504.9 63.61 L505.02 63.56 L505.14 63.51 L505.26 63.47 L505.37 63.42 L505.49 63.38 L505.61 63.33 L505.73 63.29 L505.85 63.25 L505.96 63.2 L506.08 63.16 L506.2 63.12 L506.32 63.08 L506.44 63.04 L506.56 63 L506.67 62.95 L506.79 62.91 L506.91 62.88 L507.03 62.84 L507.15 62.8 L507.26 62.76 L507.38 62.72 L507.5 62.69 L507.62 62.65 L507.74 62.61 L507.85 62.58 L507.97 62.54 L508.09 62.51 L508.21 62.48 L508.33 62.45 L508.44 62.41 L508.56 62.38 L508.68 62.36 L508.8 62.33" fill="none" stroke="#5a5a5a" stroke-width="0.8"/>
<rect x="485.47" y="75.09" width="3.3" height="3.3" fill="#fff" stroke="#5a5a5a" stroke-width="0.75"/>
<rect x="488.5" y="71.74" width="3.3" height="3.3" fill="#fff" stroke="#5a5a5a" stroke-width="0.75"/>
<rect x="491.53" y="69.17" width="3.3" height="3.3" fill="#fff" stroke="#5a5a5a" stroke-width="0.75"/>
<rect x="494.57" y="66.49" width="3.3" height="3.3" fill="#fff" stroke="#5a5a5a" stroke-width="0.75"/>
<rect x="497.6" y="64.81" width="3.3" height="3.3" fill="#fff" stroke="#5a5a5a" stroke-width="0.75"/>
<rect x="500.63" y="63.14" width="3.3" height="3.3" fill="#fff" stroke="#5a5a5a" stroke-width="0.75"/>
<rect x="503.66" y="61.8" width="3.3" height="3.3" fill="#fff" stroke="#5a5a5a" stroke-width="0.75"/>
<rect x="506.69" y="60.79" width="3.3" height="3.3" fill="#fff" stroke="#5a5a5a" stroke-width="0.75"/>
<path d="M485.3 91.82 L485.6 91.32 L485.9 90.83 L486.2 90.35 L486.5 89.9 L486.79 89.47 L487.09 89.06 L487.39 88.68 L487.69 88.33 L487.99 87.99 L488.29 87.66 L488.59 87.35 L488.88 87.04 L489.18 86.73 L489.48 86.41 L489.78 86.09 L490.08 85.76 L490.38 85.41 L490.68 85.04 L490.97 84.67 L491.27 84.29 L491.57 83.91 L491.87 83.53 L492.17 83.16 L492.47 82.8 L492.77 82.45 L493.07 82.11 L493.36 81.8 L493.66 81.5 L493.96 81.21 L494.26 80.94 L494.56 80.66 L494.86 80.4 L495.16 80.13 L495.45 79.87 L495.75 79.61 L496.05 79.34 L496.35 79.07 L496.65 78.81 L496.95 78.54 L497.25 78.28 L497.54 78.01 L497.84 77.75 L498.14 77.49 L498.44 77.23 L498.74 76.96 L499.04 76.7 L499.34 76.44 L499.63 76.17 L499.93 75.9 L500.23 75.62 L500.53 75.35 L500.83 75.08 L501.13 74.81 L501.43 74.54 L501.73 74.29 L502.02 74.04 L502.32 73.8 L502.62 73.57 L502.92 73.34 L503.22 73.12 L503.52 72.91 L503.82 72.7 L504.11 72.49 L504.41 72.29 L504.71 72.09 L505.01 71.9 L505.31 71.71 L505.61 71.53 L505.91 71.35 L506.2 71.18 L506.5 71.01 L506.8 70.85 L507.1 70.69 L507.4 70.53 L507.7 70.37 L508 70.21 L508.3 70.06 L508.59 69.91 L508.89 69.76 L509.19 69.61 L509.49 69.46 L509.79 69.32 L510.09 69.17 L510.39 69.03 L510.68 68.89 L510.98 68.76 L511.28 68.63 L511.58 68.49 L511.88 68.37 L512.18 68.24 L512.48 68.12 L512.77 68 L513.07 67.88 L513.37 67.76 L513.67 67.64 L513.97 67.52 L514.27 67.41 L514.57 67.29 L514.87 67.18 L515.16 67.06 L515.46 66.95 L515.76 66.84 L516.06 66.73 L516.36 66.62 L516.66 66.51 L516.96 66.4 L517.25 66.3 L517.55 66.2 L517.85 66.1 L518.15 66 L518.45 65.91 L518.75 65.81 L519.05 65.71 L519.34 65.62 L519.64 65.52 L519.94 65.43 L520.24 65.34 L520.54 65.25 L520.84 65.16 L521.14 65.07 L521.43 64.99 L521.73 64.9 L522.03 64.82 L522.33 64.74 L522.63 64.66 L522.93 64.59 L523.23 64.52 L523.53 64.45 L523.82 64.38 L524.12 64.31 L524.42 64.24 L524.72 64.18 L525.02 64.12 L525.32 64.05 L525.62 63.99 L525.91 63.93 L526.21 63.87 L526.51 63.81 L526.81 63.75 L527.11 63.69 L527.41 63.64 L527.71 63.58 L528 63.53 L528.3 63.47 L528.6 63.42 L528.9 63.37 L529.2 63.32 L529.5 63.26 L529.8 63.21 L530.1 63.16 L530.39 63.12 L530.69 63.07 L530.99 63.02 L531.29 62.97 L531.59 62.93 L531.89 62.88 L532.19 62.84 L532.48 62.79 L532.78 62.75 L533.08 62.71 L533.38 62.66 L533.68 62.62 L533.98 62.58 L534.28 62.53 L534.57 62.49 L534.87 62.45 L535.17 62.41 L535.47 62.37 L535.77 62.33 L536.07 62.29 L536.37 62.25 L536.67 62.21 L536.96 62.17 L537.26 62.13 L537.56 62.09 L537.86 62.05 L538.16 62.02 L538.46 61.98 L538.76 61.94 L539.05 61.91 L539.35 61.87 L539.65 61.83 L539.95 61.8 L540.25 61.77 L540.55 61.73 L540.85 61.7 L541.14 61.67 L541.44 61.63 L541.74 61.6 L542.04 61.57 L542.34 61.54 L542.64 61.51 L542.94 61.48 L543.23 61.46 L543.53 61.43 L543.83 61.4 L544.13 61.37 L544.43 61.35 L544.73 61.32" fill="none" stroke="#f05a5a" stroke-width="0.8"/>
<circle cx="487.12" cy="89.03" r="1.7" fill="#fff" stroke="#f05a5a" stroke-width="0.75"/>
<circle cx="490.15" cy="85.67" r="1.7" fill="#fff" stroke="#f05a5a" stroke-width="0.75"/>
<circle cx="493.18" cy="81.99" r="1.7" fill="#fff" stroke="#f05a5a" stroke-width="0.75"/>
<circle cx="496.22" cy="79.2" r="1.7" fill="#fff" stroke="#f05a5a" stroke-width="0.75"/>
<circle cx="499.25" cy="76.51" r="1.7" fill="#fff" stroke="#f05a5a" stroke-width="0.75"/>
<circle cx="502.28" cy="73.83" r="1.7" fill="#fff" stroke="#f05a5a" stroke-width="0.75"/>
<circle cx="505.31" cy="71.71" r="1.7" fill="#fff" stroke="#f05a5a" stroke-width="0.75"/>
<circle cx="508.34" cy="70.04" r="1.7" fill="#fff" stroke="#f05a5a" stroke-width="0.75"/>
<circle cx="511.38" cy="68.58" r="1.7" fill="#fff" stroke="#f05a5a" stroke-width="0.75"/>
<circle cx="514.41" cy="67.36" r="1.7" fill="#fff" stroke="#f05a5a" stroke-width="0.75"/>
<circle cx="517.44" cy="66.24" r="1.7" fill="#fff" stroke="#f05a5a" stroke-width="0.75"/>
<circle cx="520.47" cy="65.27" r="1.7" fill="#fff" stroke="#f05a5a" stroke-width="0.75"/>
<circle cx="523.5" cy="64.45" r="1.7" fill="#fff" stroke="#f05a5a" stroke-width="0.75"/>
<circle cx="526.54" cy="63.81" r="1.7" fill="#fff" stroke="#f05a5a" stroke-width="0.75"/>
<circle cx="529.57" cy="63.25" r="1.7" fill="#fff" stroke="#f05a5a" stroke-width="0.75"/>
<circle cx="532.6" cy="62.78" r="1.7" fill="#fff" stroke="#f05a5a" stroke-width="0.75"/>
<circle cx="535.63" cy="62.35" r="1.7" fill="#fff" stroke="#f05a5a" stroke-width="0.75"/>
<circle cx="538.66" cy="61.95" r="1.7" fill="#fff" stroke="#f05a5a" stroke-width="0.75"/>
<circle cx="541.7" cy="61.61" r="1.7" fill="#fff" stroke="#f05a5a" stroke-width="0.75"/>
<circle cx="544.73" cy="61.32" r="1.7" fill="#fff" stroke="#f05a5a" stroke-width="0.75"/>
<path d="M485.3 95.73 L485.6 95.24 L485.91 94.77 L486.21 94.3 L486.51 93.83 L486.82 93.38 L487.12 92.93 L487.42 92.5 L487.73 92.07 L488.03 91.64 L488.33 91.22 L488.64 90.81 L488.94 90.4 L489.24 89.99 L489.55 89.59 L489.85 89.19 L490.15 88.8 L490.46 88.41 L490.76 88.02 L491.06 87.63 L491.36 87.25 L491.67 86.87 L491.97 86.5 L492.27 86.13 L492.58 85.78 L492.88 85.44 L493.18 85.12 L493.49 84.81 L493.79 84.51 L494.09 84.22 L494.4 83.94 L494.7 83.67 L495 83.4 L495.31 83.14 L495.61 82.87 L495.91 82.6 L496.22 82.32 L496.52 82.04 L496.82 81.76 L497.13 81.48 L497.43 81.19 L497.73 80.91 L498.04 80.63 L498.34 80.35 L498.64 80.07 L498.94 79.8 L499.25 79.53 L499.55 79.26 L499.85 79 L500.16 78.73 L500.46 78.47 L500.76 78.21 L501.07 77.95 L501.37 77.7 L501.67 77.45 L501.98 77.2 L502.28 76.96 L502.58 76.72 L502.89 76.48 L503.19 76.25 L503.49 76.01 L503.8 75.79 L504.1 75.56 L504.4 75.34 L504.71 75.13 L505.01 74.92 L505.31 74.73 L505.62 74.54 L505.92 74.36 L506.22 74.19 L506.52 74.02 L506.83 73.85 L507.13 73.69 L507.43 73.53 L507.74 73.37 L508.04 73.21 L508.34 73.05 L508.65 72.89 L508.95 72.73 L509.25 72.57 L509.56 72.42 L509.86 72.26 L510.16 72.11 L510.47 71.95 L510.77 71.8 L511.07 71.64 L511.38 71.49 L511.68 71.33 L511.98 71.18 L512.29 71.02 L512.59 70.87 L512.89 70.71 L513.2 70.56 L513.5 70.4 L513.8 70.24 L514.1 70.09 L514.41 69.92 L514.71 69.76 L515.01 69.59 L515.32 69.42 L515.62 69.25 L515.92 69.08 L516.23 68.91 L516.53 68.74 L516.83 68.57 L517.14 68.41 L517.44 68.25 L517.74 68.09 L518.05 67.94 L518.35 67.79 L518.65 67.64 L518.96 67.49 L519.26 67.35 L519.56 67.21 L519.87 67.07 L520.17 66.93 L520.47 66.8 L520.78 66.66 L521.08 66.53 L521.38 66.4 L521.68 66.27 L521.99 66.15 L522.29 66.02 L522.59 65.9 L522.9 65.79 L523.2 65.67 L523.5 65.57 L523.81 65.47 L524.11 65.37 L524.41 65.27 L524.72 65.18 L525.02 65.09 L525.32 65 L525.63 64.91 L525.93 64.83 L526.23 64.75 L526.54 64.67 L526.84 64.6 L527.14 64.53 L527.45 64.46 L527.75 64.39 L528.05 64.32 L528.36 64.25 L528.66 64.19 L528.96 64.13 L529.26 64.07 L529.57 64 L529.87 63.94 L530.17 63.89 L530.48 63.83 L530.78 63.77 L531.08 63.72 L531.39 63.66 L531.69 63.61 L531.99 63.56 L532.3 63.5 L532.6 63.45 L532.9 63.39 L533.21 63.33 L533.51 63.27 L533.81 63.22 L534.12 63.16 L534.42 63.1 L534.72 63.05 L535.03 62.99 L535.33 62.94 L535.63 62.89 L535.94 62.84 L536.24 62.79 L536.54 62.75 L536.84 62.7 L537.15 62.66 L537.45 62.61 L537.75 62.57 L538.06 62.53 L538.36 62.48 L538.66 62.44 L538.97 62.39 L539.27 62.35 L539.57 62.3 L539.88 62.25 L540.18 62.2 L540.48 62.16 L540.79 62.11 L541.09 62.07 L541.39 62.03 L541.7 61.99 L542 61.96 L542.3 61.93 L542.61 61.9 L542.91 61.87 L543.21 61.84 L543.52 61.81 L543.82 61.78 L544.12 61.76 L544.42 61.73 L544.73 61.71 L545.03 61.69 L545.33 61.67 L545.64 61.66" fill="none" stroke="#4f84e6" stroke-width="0.8"/>
<path d="M487.12 90.95L489.1 94.37L485.14 94.37Z" fill="#fff" stroke="#4f84e6" stroke-width="0.75"/>
<path d="M490.15 86.82L492.13 90.24L488.17 90.24Z" fill="#fff" stroke="#4f84e6" stroke-width="0.75"/>
<path d="M493.18 83.14L495.16 86.56L491.2 86.56Z" fill="#fff" stroke="#4f84e6" stroke-width="0.75"/>
<path d="M496.22 80.34L498.2 83.76L494.24 83.76Z" fill="#fff" stroke="#4f84e6" stroke-width="0.75"/>
<path d="M499.25 77.55L501.23 80.97L497.27 80.97Z" fill="#fff" stroke="#4f84e6" stroke-width="0.75"/>
<path d="M502.28 74.98L504.26 78.4L500.3 78.4Z" fill="#fff" stroke="#4f84e6" stroke-width="0.75"/>
<path d="M505.31 72.75L507.29 76.17L503.33 76.17Z" fill="#fff" stroke="#4f84e6" stroke-width="0.75"/>
<path d="M508.34 71.07L510.32 74.49L506.36 74.49Z" fill="#fff" stroke="#4f84e6" stroke-width="0.75"/>
<path d="M511.38 69.51L513.36 72.93L509.4 72.93Z" fill="#fff" stroke="#4f84e6" stroke-width="0.75"/>
<path d="M514.41 67.94L516.39 71.36L512.43 71.36Z" fill="#fff" stroke="#4f84e6" stroke-width="0.75"/>
<path d="M517.44 66.27L519.42 69.69L515.46 69.69Z" fill="#fff" stroke="#4f84e6" stroke-width="0.75"/>
<path d="M520.47 64.82L522.45 68.24L518.49 68.24Z" fill="#fff" stroke="#4f84e6" stroke-width="0.75"/>
<path d="M523.5 63.59L525.48 67.01L521.52 67.01Z" fill="#fff" stroke="#4f84e6" stroke-width="0.75"/>
<path d="M526.54 62.69L528.52 66.11L524.56 66.11Z" fill="#fff" stroke="#4f84e6" stroke-width="0.75"/>
<path d="M529.57 62.02L531.55 65.44L527.59 65.44Z" fill="#fff" stroke="#4f84e6" stroke-width="0.75"/>
<path d="M532.6 61.47L534.58 64.89L530.62 64.89Z" fill="#fff" stroke="#4f84e6" stroke-width="0.75"/>
<path d="M535.63 60.91L537.61 64.33L533.65 64.33Z" fill="#fff" stroke="#4f84e6" stroke-width="0.75"/>
<path d="M538.66 60.46L540.64 63.88L536.68 63.88Z" fill="#fff" stroke="#4f84e6" stroke-width="0.75"/>
<path d="M541.7 60.01L543.68 63.43L539.72 63.43Z" fill="#fff" stroke="#4f84e6" stroke-width="0.75"/>
<path d="M544.73 59.73L546.71 63.15L542.75 63.15Z" fill="#fff" stroke="#4f84e6" stroke-width="0.75"/>
<path d="M485.3 116.95 L485.85 115.31 L486.4 113.76 L486.95 112.33 L487.5 111.05 L488.05 109.87 L488.6 108.75 L489.15 107.69 L489.7 106.64 L490.25 105.59 L490.8 104.53 L491.35 103.47 L491.9 102.44 L492.45 101.45 L493 100.5 L493.55 99.61 L494.1 98.76 L494.65 97.95 L495.2 97.16 L495.75 96.38 L496.3 95.61 L496.85 94.83 L497.4 94.05 L497.95 93.29 L498.5 92.55 L499.05 91.84 L499.6 91.16 L500.15 90.52 L500.7 89.9 L501.25 89.29 L501.8 88.67 L502.35 88.05 L502.9 87.4 L503.45 86.75 L504 86.08 L504.55 85.42 L505.1 84.77 L505.65 84.13 L506.2 83.53 L506.75 82.96 L507.3 82.42 L507.85 81.88 L508.4 81.35 L508.95 80.84 L509.5 80.33 L510.05 79.84 L510.6 79.36 L511.15 78.9 L511.7 78.45 L512.25 78.03 L512.8 77.62 L513.35 77.24 L513.9 76.88 L514.45 76.55 L515 76.23 L515.55 75.92 L516.1 75.63 L516.65 75.35 L517.2 75.08 L517.75 74.82 L518.3 74.57 L518.85 74.32 L519.4 74.08 L519.95 73.84 L520.5 73.6 L521.05 73.36 L521.6 73.13 L522.15 72.9 L522.7 72.68 L523.25 72.47 L523.8 72.25 L524.35 72.04 L524.9 71.84 L525.45 71.64 L526 71.44 L526.55 71.25 L527.1 71.06 L527.65 70.88 L528.2 70.7 L528.75 70.52 L529.3 70.35 L529.85 70.17 L530.4 70.01 L530.95 69.84 L531.5 69.68 L532.05 69.52 L532.6 69.36 L533.15 69.2 L533.7 69.04 L534.25 68.88 L534.8 68.72 L535.35 68.56 L535.9 68.4 L536.45 68.24 L537 68.09 L537.55 67.94 L538.1 67.8 L538.65 67.68 L539.2 67.56 L539.75 67.46 L540.3 67.37 L540.85 67.29 L541.4 67.21 L541.95 67.14 L542.5 67.08 L543.05 67.01 L543.6 66.95 L544.15 66.89 L544.7 66.83 L545.25 66.76 L545.8 66.7 L546.35 66.65 L546.9 66.59 L547.45 66.53 L548 66.48 L548.55 66.42 L549.1 66.37 L549.65 66.32 L550.2 66.26 L550.75 66.21 L551.3 66.16 L551.85 66.11 L552.4 66.06 L552.95 66.01 L553.5 65.96 L554.05 65.91 L554.6 65.86 L555.15 65.81 L555.7 65.76 L556.25 65.71 L556.8 65.66 L557.35 65.61 L557.9 65.56 L558.45 65.52 L559 65.47 L559.55 65.42 L560.1 65.38 L560.65 65.33 L561.2 65.29 L561.75 65.24 L562.3 65.2 L562.85 65.15 L563.4 65.11 L563.95 65.06 L564.5 65.02 L565.05 64.97 L565.6 64.93 L566.15 64.89 L566.7 64.84 L567.25 64.8 L567.8 64.75 L568.35 64.71 L568.9 64.66 L569.45 64.62 L570 64.57 L570.55 64.53 L571.1 64.48 L571.65 64.43 L572.2 64.38 L572.75 64.34 L573.3 64.29 L573.86 64.24 L574.41 64.19 L574.96 64.14 L575.51 64.09 L576.06 64.04 L576.61 63.99 L577.16 63.94 L577.71 63.89 L578.26 63.84 L578.81 63.79 L579.36 63.74 L579.91 63.68 L580.46 63.63 L581.01 63.58 L581.56 63.53 L582.11 63.48 L582.66 63.42 L583.21 63.37 L583.76 63.32 L584.31 63.26 L584.86 63.21 L585.41 63.16 L585.96 63.1 L586.51 63.05 L587.06 63 L587.61 62.94 L588.16 62.89 L588.71 62.83 L589.26 62.78 L589.81 62.72 L590.36 62.67 L590.91 62.61 L591.46 62.56 L592.01 62.5 L592.56 62.44 L593.11 62.39 L593.66 62.33 L594.21 62.27 L594.76 62.22" fill="none" stroke="#3aad6a" stroke-width="0.8"/>
<path d="M487.12 114.12L489.32 110.32L484.92 110.32Z" fill="#3aad6a"/>
<path d="M490.15 107.98L492.35 104.18L487.95 104.18Z" fill="#3aad6a"/>
<path d="M493.18 102.4L495.38 98.6L490.98 98.6Z" fill="#3aad6a"/>
<path d="M496.22 97.93L498.42 94.13L494.02 94.13Z" fill="#3aad6a"/>
<path d="M499.25 93.79L501.45 89.99L497.05 89.99Z" fill="#3aad6a"/>
<path d="M502.28 90.33L504.48 86.53L500.08 86.53Z" fill="#3aad6a"/>
<path d="M505.31 86.72L507.51 82.92L503.11 82.92Z" fill="#3aad6a"/>
<path d="M508.34 83.61L510.54 79.81L506.14 79.81Z" fill="#3aad6a"/>
<path d="M511.38 80.91L513.58 77.11L509.18 77.11Z" fill="#3aad6a"/>
<path d="M514.41 78.77L516.61 74.97L512.21 74.97Z" fill="#3aad6a"/>
<path d="M517.44 77.17L519.64 73.37L515.24 73.37Z" fill="#3aad6a"/>
<path d="M520.47 75.81L522.67 72.01L518.27 72.01Z" fill="#3aad6a"/>
<path d="M523.5 74.57L525.7 70.77L521.3 70.77Z" fill="#3aad6a"/>
<path d="M526.54 73.46L528.74 69.66L524.34 69.66Z" fill="#3aad6a"/>
<path d="M529.57 72.46L531.77 68.66L527.37 68.66Z" fill="#3aad6a"/>
<path d="M532.6 71.56L534.8 67.76L530.4 67.76Z" fill="#3aad6a"/>
<path d="M535.63 70.68L537.83 66.88L533.43 66.88Z" fill="#3aad6a"/>
<path d="M538.66 69.88L540.86 66.08L536.46 66.08Z" fill="#3aad6a"/>
<path d="M541.7 69.38L543.9 65.58L539.5 65.58Z" fill="#3aad6a"/>
<path d="M544.73 69.02L546.93 65.22L542.53 65.22Z" fill="#3aad6a"/>
<path d="M547.76 68.7L549.96 64.9L545.56 64.9Z" fill="#3aad6a"/>
<path d="M550.79 68.41L552.99 64.61L548.59 64.61Z" fill="#3aad6a"/>
<path d="M553.82 68.13L556.02 64.33L551.62 64.33Z" fill="#3aad6a"/>
<path d="M556.86 67.86L559.06 64.06L554.66 64.06Z" fill="#3aad6a"/>
<path d="M559.89 67.6L562.09 63.8L557.69 63.8Z" fill="#3aad6a"/>
<path d="M562.92 67.35L565.12 63.55L560.72 63.55Z" fill="#3aad6a"/>
<path d="M565.95 67.1L568.15 63.3L563.75 63.3Z" fill="#3aad6a"/>
<path d="M568.98 66.86L571.18 63.06L566.78 63.06Z" fill="#3aad6a"/>
<path d="M572.02 66.6L574.22 62.8L569.82 62.8Z" fill="#3aad6a"/>
<path d="M575.05 66.33L577.25 62.53L572.85 62.53Z" fill="#3aad6a"/>
<path d="M578.08 66.05L580.28 62.25L575.88 62.25Z" fill="#3aad6a"/>
<path d="M581.11 65.77L583.31 61.97L578.91 61.97Z" fill="#3aad6a"/>
<path d="M584.14 65.48L586.34 61.68L581.94 61.68Z" fill="#3aad6a"/>
<path d="M587.18 65.18L589.38 61.38L584.98 61.38Z" fill="#3aad6a"/>
<path d="M590.21 64.88L592.41 61.08L588.01 61.08Z" fill="#3aad6a"/>
<path d="M593.24 64.57L595.44 60.77L591.04 60.77Z" fill="#3aad6a"/>
<path d="M485.3 119.18 L485.94 117.29 L486.58 115.52 L487.23 113.91 L487.87 112.45 L488.51 111.1 L489.15 109.81 L489.79 108.53 L490.43 107.21 L491.07 105.87 L491.72 104.54 L492.36 103.24 L493 101.99 L493.64 100.81 L494.28 99.66 L494.92 98.56 L495.56 97.5 L496.21 96.52 L496.85 95.61 L497.49 94.76 L498.13 93.94 L498.77 93.16 L499.41 92.41 L500.05 91.68 L500.7 90.98 L501.34 90.31 L501.98 89.66 L502.62 89.03 L503.26 88.42 L503.9 87.82 L504.54 87.24 L505.19 86.68 L505.83 86.12 L506.47 85.54 L507.11 84.97 L507.75 84.4 L508.39 83.83 L509.03 83.26 L509.68 82.71 L510.32 82.17 L510.96 81.64 L511.6 81.14 L512.24 80.66 L512.88 80.21 L513.52 79.79 L514.17 79.41 L514.81 79.04 L515.45 78.68 L516.09 78.34 L516.73 78.01 L517.37 77.68 L518.01 77.37 L518.66 77.07 L519.3 76.78 L519.94 76.5 L520.58 76.22 L521.22 75.95 L521.86 75.69 L522.5 75.44 L523.15 75.19 L523.79 74.95 L524.43 74.72 L525.07 74.49 L525.71 74.26 L526.35 74.04 L526.99 73.82 L527.64 73.6 L528.28 73.38 L528.92 73.17 L529.56 72.97 L530.2 72.76 L530.84 72.56 L531.48 72.36 L532.13 72.17 L532.77 71.98 L533.41 71.79 L534.05 71.61 L534.69 71.42 L535.33 71.25 L535.97 71.07 L536.62 70.9 L537.26 70.73 L537.9 70.57 L538.54 70.41 L539.18 70.25 L539.82 70.09 L540.46 69.94 L541.11 69.8 L541.75 69.65 L542.39 69.51 L543.03 69.37 L543.67 69.24 L544.31 69.11 L544.96 68.98 L545.6 68.85 L546.24 68.73 L546.88 68.61 L547.52 68.49 L548.16 68.37 L548.8 68.26 L549.45 68.15 L550.09 68.04 L550.73 67.94 L551.37 67.83 L552.01 67.73 L552.65 67.63 L553.29 67.54 L553.94 67.44 L554.58 67.35 L555.22 67.26 L555.86 67.17 L556.5 67.08 L557.14 67 L557.78 66.92 L558.43 66.83 L559.07 66.75 L559.71 66.67 L560.35 66.59 L560.99 66.52 L561.63 66.44 L562.27 66.37 L562.92 66.29 L563.56 66.22 L564.2 66.15 L564.84 66.08 L565.48 66.01 L566.12 65.94 L566.76 65.87 L567.41 65.8 L568.05 65.73 L568.69 65.67 L569.33 65.6 L569.97 65.53 L570.61 65.47 L571.25 65.4 L571.9 65.33 L572.54 65.27 L573.18 65.2 L573.82 65.14 L574.46 65.07 L575.1 65.01 L575.74 64.94 L576.39 64.88 L577.03 64.81 L577.67 64.74 L578.31 64.68 L578.95 64.61 L579.59 64.55 L580.23 64.48 L580.88 64.42 L581.52 64.36 L582.16 64.29 L582.8 64.23 L583.44 64.17 L584.08 64.11 L584.72 64.05 L585.37 63.99 L586.01 63.93 L586.65 63.87 L587.29 63.81 L587.93 63.75 L588.57 63.7 L589.21 63.64 L589.86 63.59 L590.5 63.54 L591.14 63.49 L591.78 63.44 L592.42 63.39 L593.06 63.35 L593.7 63.3 L594.35 63.26 L594.99 63.21 L595.63 63.17 L596.27 63.13 L596.91 63.08 L597.55 63.04 L598.19 63 L598.84 62.96 L599.48 62.92 L600.12 62.88 L600.76 62.84 L601.4 62.8 L602.04 62.76 L602.68 62.72 L603.33 62.68 L603.97 62.65 L604.61 62.61 L605.25 62.58 L605.89 62.54 L606.53 62.51 L607.18 62.47 L607.82 62.44 L608.46 62.41 L609.1 62.38 L609.74 62.35 L610.38 62.32 L611.02 62.3 L611.67 62.27 L612.31 62.24 L612.95 62.22" fill="none" stroke="#b07ce6" stroke-width="0.8"/>
<path d="M487.12 111.86L489.12 114.16L487.12 116.46L485.12 114.16Z" fill="#b07ce6"/>
<path d="M490.15 105.49L492.15 107.79L490.15 110.09L488.15 107.79Z" fill="#b07ce6"/>
<path d="M493.18 99.35L495.18 101.65L493.18 103.95L491.18 101.65Z" fill="#b07ce6"/>
<path d="M496.22 94.21L498.22 96.51L496.22 98.81L494.22 96.51Z" fill="#b07ce6"/>
<path d="M499.25 90.3L501.25 92.6L499.25 94.9L497.25 92.6Z" fill="#b07ce6"/>
<path d="M502.28 87.06L504.28 89.36L502.28 91.66L500.28 89.36Z" fill="#b07ce6"/>
<path d="M505.31 84.27L507.31 86.57L505.31 88.87L503.31 86.57Z" fill="#b07ce6"/>
<path d="M508.34 81.57L510.34 83.87L508.34 86.17L506.34 83.87Z" fill="#b07ce6"/>
<path d="M511.38 79.01L513.38 81.31L511.38 83.61L509.38 81.31Z" fill="#b07ce6"/>
<path d="M514.41 76.97L516.41 79.27L514.41 81.57L512.41 79.27Z" fill="#b07ce6"/>
<path d="M517.44 75.35L519.44 77.65L517.44 79.95L515.44 77.65Z" fill="#b07ce6"/>
<path d="M520.47 73.97L522.47 76.27L520.47 78.57L518.47 76.27Z" fill="#b07ce6"/>
<path d="M523.5 72.76L525.5 75.06L523.5 77.36L521.5 75.06Z" fill="#b07ce6"/>
<path d="M526.54 71.67L528.54 73.97L526.54 76.27L524.54 73.97Z" fill="#b07ce6"/>
<path d="M529.57 70.66L531.57 72.96L529.57 75.26L527.57 72.96Z" fill="#b07ce6"/>
<path d="M532.6 69.73L534.6 72.03L532.6 74.33L530.6 72.03Z" fill="#b07ce6"/>
<path d="M535.63 68.86L537.63 71.16L535.63 73.46L533.63 71.16Z" fill="#b07ce6"/>
<path d="M538.66 68.08L540.66 70.38L538.66 72.68L536.66 70.38Z" fill="#b07ce6"/>
<path d="M541.7 67.36L543.7 69.66L541.7 71.96L539.7 69.66Z" fill="#b07ce6"/>
<path d="M544.73 66.72L546.73 69.02L544.73 71.32L542.73 69.02Z" fill="#b07ce6"/>
<path d="M547.76 66.15L549.76 68.45L547.76 70.75L545.76 68.45Z" fill="#b07ce6"/>
<path d="M550.79 65.63L552.79 67.93L550.79 70.23L548.79 67.93Z" fill="#b07ce6"/>
<path d="M553.82 65.16L555.82 67.46L553.82 69.76L551.82 67.46Z" fill="#b07ce6"/>
<path d="M556.86 64.74L558.86 67.04L556.86 69.34L554.86 67.04Z" fill="#b07ce6"/>
<path d="M559.89 64.35L561.89 66.65L559.89 68.95L557.89 66.65Z" fill="#b07ce6"/>
<path d="M562.92 63.99L564.92 66.29L562.92 68.59L560.92 66.29Z" fill="#b07ce6"/>
<path d="M565.95 63.66L567.95 65.96L565.95 68.26L563.95 65.96Z" fill="#b07ce6"/>
<path d="M568.98 63.33L570.98 65.63L568.98 67.93L566.98 65.63Z" fill="#b07ce6"/>
<path d="M572.02 63.02L574.02 65.32L572.02 67.62L570.02 65.32Z" fill="#b07ce6"/>
<path d="M575.05 62.71L577.05 65.01L575.05 67.31L573.05 65.01Z" fill="#b07ce6"/>
<path d="M578.08 62.4L580.08 64.7L578.08 67L576.08 64.7Z" fill="#b07ce6"/>
<path d="M581.11 62.1L583.11 64.4L581.11 66.7L579.11 64.4Z" fill="#b07ce6"/>
<path d="M584.14 61.8L586.14 64.1L584.14 66.4L582.14 64.1Z" fill="#b07ce6"/>
<path d="M587.18 61.52L589.18 63.82L587.18 66.12L585.18 63.82Z" fill="#b07ce6"/>
<path d="M590.21 61.26L592.21 63.56L590.21 65.86L588.21 63.56Z" fill="#b07ce6"/>
<path d="M593.24 61.03L595.24 63.33L593.24 65.63L591.24 63.33Z" fill="#b07ce6"/>
<path d="M596.27 60.83L598.27 63.13L596.27 65.43L594.27 63.13Z" fill="#b07ce6"/>
<path d="M599.3 60.63L601.3 62.93L599.3 65.23L597.3 62.93Z" fill="#b07ce6"/>
<path d="M602.34 60.44L604.34 62.74L602.34 65.04L600.34 62.74Z" fill="#b07ce6"/>
<path d="M605.37 60.27L607.37 62.57L605.37 64.87L603.37 62.57Z" fill="#b07ce6"/>
<path d="M608.4 60.11L610.4 62.41L608.4 64.71L606.4 62.41Z" fill="#b07ce6"/>
<path d="M611.43 59.98L613.43 62.28L611.43 64.58L609.43 62.28Z" fill="#b07ce6"/>
<path d="M485.3 129.24 L486.06 127.72 L486.83 125.96 L487.59 123.87 L488.35 121.3 L489.12 118.57 L489.88 116.05 L490.64 113.98 L491.41 112.12 L492.17 110.4 L492.93 108.76 L493.7 107.17 L494.46 105.64 L495.22 104.19 L495.99 102.82 L496.75 101.55 L497.51 100.35 L498.28 99.22 L499.04 98.14 L499.8 97.09 L500.57 96.07 L501.33 95.1 L502.09 94.16 L502.86 93.26 L503.62 92.4 L504.38 91.56 L505.15 90.76 L505.91 89.98 L506.67 89.24 L507.44 88.51 L508.2 87.81 L508.96 87.14 L509.73 86.48 L510.49 85.85 L511.25 85.22 L512.02 84.58 L512.78 83.94 L513.54 83.3 L514.31 82.66 L515.07 82.04 L515.83 81.45 L516.6 80.9 L517.36 80.39 L518.12 79.91 L518.89 79.46 L519.65 79.02 L520.41 78.6 L521.18 78.2 L521.94 77.8 L522.7 77.42 L523.47 77.05 L524.23 76.69 L524.99 76.33 L525.76 75.99 L526.52 75.65 L527.28 75.32 L528.05 75 L528.81 74.7 L529.57 74.4 L530.34 74.11 L531.1 73.83 L531.86 73.56 L532.63 73.29 L533.39 73.04 L534.15 72.79 L534.92 72.55 L535.68 72.31 L536.44 72.08 L537.21 71.84 L537.97 71.61 L538.73 71.38 L539.5 71.15 L540.26 70.93 L541.02 70.72 L541.79 70.53 L542.55 70.36 L543.31 70.21 L544.08 70.07 L544.84 69.94 L545.6 69.82 L546.37 69.7 L547.13 69.58 L547.89 69.47 L548.66 69.37 L549.42 69.27 L550.18 69.17 L550.95 69.07 L551.71 68.98 L552.47 68.9 L553.24 68.81 L554 68.73 L554.76 68.65 L555.53 68.56 L556.29 68.49 L557.05 68.41 L557.82 68.34 L558.58 68.26 L559.34 68.19 L560.11 68.13 L560.87 68.06 L561.63 68 L562.4 67.93 L563.16 67.87 L563.92 67.81 L564.69 67.75 L565.45 67.69 L566.21 67.63 L566.98 67.57 L567.74 67.52 L568.5 67.46 L569.27 67.4 L570.03 67.34 L570.79 67.28 L571.56 67.22 L572.32 67.16 L573.08 67.1 L573.85 67.03 L574.61 66.97 L575.37 66.9 L576.14 66.83 L576.9 66.77 L577.66 66.7 L578.43 66.63 L579.19 66.56 L579.95 66.49 L580.72 66.43 L581.48 66.36 L582.24 66.29 L583.01 66.22 L583.77 66.15 L584.53 66.09 L585.3 66.02 L586.06 65.96 L586.82 65.89 L587.59 65.83 L588.35 65.77 L589.11 65.71 L589.88 65.65 L590.64 65.59 L591.4 65.54 L592.17 65.48 L592.93 65.43 L593.69 65.37 L594.46 65.32 L595.22 65.27 L595.98 65.22 L596.75 65.17 L597.51 65.11 L598.27 65.06 L599.04 65.02 L599.8 64.97 L600.56 64.92 L601.33 64.87 L602.09 64.82 L602.85 64.77 L603.62 64.73 L604.38 64.68 L605.14 64.63 L605.91 64.59 L606.67 64.54 L607.43 64.5 L608.2 64.45 L608.96 64.41 L609.72 64.36 L610.49 64.32 L611.25 64.28 L612.01 64.23 L612.78 64.19 L613.54 64.14 L614.3 64.1 L615.07 64.06 L615.83 64.01 L616.59 63.97 L617.36 63.93 L618.12 63.88 L618.88 63.84 L619.65 63.8 L620.41 63.76 L621.17 63.71 L621.94 63.67 L622.7 63.63 L623.46 63.59 L624.23 63.55 L624.99 63.51 L625.75 63.47 L626.52 63.43 L627.28 63.39 L628.04 63.35 L628.81 63.31 L629.57 63.27 L630.33 63.23 L631.1 63.19 L631.86 63.15 L632.62 63.11 L633.39 63.07 L634.15 63.04 L634.91 63 L635.68 62.96 L636.44 62.92 L637.2 62.89" fill="none" stroke="#d6a019" stroke-width="0.8"/>
<path d="M484.81 125.22L488.8 122.91L488.8 127.53Z" fill="#d6a019"/>
<path d="M487.84 115.27L491.83 112.96L491.83 117.58Z" fill="#d6a019"/>
<path d="M490.87 108.24L494.86 105.93L494.86 110.55Z" fill="#d6a019"/>
<path d="M493.91 102.43L497.9 100.12L497.9 104.74Z" fill="#d6a019"/>
<path d="M496.94 97.85L500.93 95.54L500.93 100.16Z" fill="#d6a019"/>
<path d="M499.97 93.94L503.96 91.63L503.96 96.25Z" fill="#d6a019"/>
<path d="M503 90.59L506.99 88.28L506.99 92.9Z" fill="#d6a019"/>
<path d="M506.03 87.68L510.02 85.37L510.02 89.99Z" fill="#d6a019"/>
<path d="M509.07 85.12L513.06 82.81L513.06 87.43Z" fill="#d6a019"/>
<path d="M512.1 82.58L516.09 80.27L516.09 84.89Z" fill="#d6a019"/>
<path d="M515.13 80.34L519.12 78.03L519.12 82.65Z" fill="#d6a019"/>
<path d="M518.16 78.57L522.15 76.26L522.15 80.88Z" fill="#d6a019"/>
<path d="M521.19 77.03L525.18 74.72L525.18 79.34Z" fill="#d6a019"/>
<path d="M524.23 75.64L528.22 73.33L528.22 77.95Z" fill="#d6a019"/>
<path d="M527.26 74.4L531.25 72.09L531.25 76.71Z" fill="#d6a019"/>
<path d="M530.29 73.3L534.28 70.99L534.28 75.61Z" fill="#d6a019"/>
<path d="M533.32 72.32L537.31 70.01L537.31 74.63Z" fill="#d6a019"/>
<path d="M536.35 71.4L540.34 69.09L540.34 73.71Z" fill="#d6a019"/>
<path d="M539.39 70.55L543.38 68.24L543.38 72.86Z" fill="#d6a019"/>
<path d="M542.42 69.96L546.41 67.65L546.41 72.27Z" fill="#d6a019"/>
<path d="M545.45 69.49L549.44 67.18L549.44 71.8Z" fill="#d6a019"/>
<path d="M548.48 69.09L552.47 66.78L552.47 71.4Z" fill="#d6a019"/>
<path d="M551.51 68.75L555.5 66.44L555.5 71.06Z" fill="#d6a019"/>
<path d="M554.55 68.43L558.54 66.12L558.54 70.74Z" fill="#d6a019"/>
<path d="M557.58 68.15L561.57 65.84L561.57 70.46Z" fill="#d6a019"/>
<path d="M560.61 67.89L564.6 65.58L564.6 70.2Z" fill="#d6a019"/>
<path d="M563.64 67.65L567.63 65.34L567.63 69.96Z" fill="#d6a019"/>
<path d="M566.67 67.42L570.66 65.11L570.66 69.73Z" fill="#d6a019"/>
<path d="M569.71 67.18L573.7 64.87L573.7 69.49Z" fill="#d6a019"/>
<path d="M572.74 66.93L576.73 64.62L576.73 69.24Z" fill="#d6a019"/>
<path d="M575.77 66.66L579.76 64.35L579.76 68.97Z" fill="#d6a019"/>
<path d="M578.8 66.39L582.79 64.08L582.79 68.7Z" fill="#d6a019"/>
<path d="M581.83 66.12L585.82 63.81L585.82 68.43Z" fill="#d6a019"/>
<path d="M584.87 65.86L588.86 63.55L588.86 68.17Z" fill="#d6a019"/>
<path d="M587.9 65.62L591.89 63.31L591.89 67.93Z" fill="#d6a019"/>
<path d="M590.93 65.41L594.92 63.1L594.92 67.72Z" fill="#d6a019"/>
<path d="M593.96 65.2L597.95 62.89L597.95 67.51Z" fill="#d6a019"/>
<path d="M596.99 65L600.98 62.69L600.98 67.31Z" fill="#d6a019"/>
<path d="M600.03 64.81L604.02 62.5L604.02 67.12Z" fill="#d6a019"/>
<path d="M603.06 64.62L607.05 62.31L607.05 66.93Z" fill="#d6a019"/>
<path d="M606.09 64.44L610.08 62.13L610.08 66.75Z" fill="#d6a019"/>
<path d="M609.12 64.26L613.11 61.95L613.11 66.57Z" fill="#d6a019"/>
<path d="M612.15 64.09L616.14 61.78L616.14 66.4Z" fill="#d6a019"/>
<path d="M615.19 63.92L619.18 61.61L619.18 66.23Z" fill="#d6a019"/>
<path d="M618.22 63.75L622.21 61.44L622.21 66.06Z" fill="#d6a019"/>
<path d="M621.25 63.58L625.24 61.27L625.24 65.89Z" fill="#d6a019"/>
<path d="M624.28 63.42L628.27 61.11L628.27 65.73Z" fill="#d6a019"/>
<path d="M627.31 63.26L631.3 60.95L631.3 65.57Z" fill="#d6a019"/>
<path d="M630.35 63.11L634.34 60.8L634.34 65.42Z" fill="#d6a019"/>
<path d="M633.38 62.96L637.37 60.65L637.37 65.27Z" fill="#d6a019"/>
</g>
<line x1="485.3" y1="57" x2="651" y2="57" stroke="#9a9a9a" stroke-width="1.1"/>
<line x1="650.5" y1="57" x2="650.5" y2="130" stroke="#8a8a8a" stroke-width="1.1"/>
<line x1="486" y1="57" x2="486" y2="130" stroke="#b8b8b8" stroke-width="1.5"/>
<line x1="485.3" y1="130.1" x2="651" y2="130.1" stroke="#333" stroke-width="1"/>
<line x1="486" y1="61.1" x2="487.8" y2="61.1" stroke="#555" stroke-width="0.8"/>
<text x="483.5" y="64.6" text-anchor="end" font-size="10.9">3.4</text>
<line x1="486" y1="83.44" x2="487.8" y2="83.44" stroke="#555" stroke-width="0.8"/>
<text x="483.5" y="86.94" text-anchor="end" font-size="10.9">3.2</text>
<line x1="486" y1="105.78" x2="487.8" y2="105.78" stroke="#555" stroke-width="0.8"/>
<text x="483.5" y="109.28" text-anchor="end" font-size="10.9">3.0</text>
<line x1="486" y1="128.12" x2="487.8" y2="128.12" stroke="#555" stroke-width="0.8"/>
<text x="483.5" y="131.62" text-anchor="end" font-size="10.9">2.8</text>
<line x1="494.7" y1="130.1" x2="494.7" y2="127.9" stroke="#333" stroke-width="0.8"/>
<text x="495.1" y="140.4" text-anchor="middle" font-size="10.9">20</text>
<line x1="509.86" y1="130.1" x2="509.86" y2="128.7" stroke="#333" stroke-width="0.8"/>
<line x1="525.02" y1="130.1" x2="525.02" y2="127.9" stroke="#333" stroke-width="0.8"/>
<text x="525.42" y="140.4" text-anchor="middle" font-size="10.9">40</text>
<line x1="540.18" y1="130.1" x2="540.18" y2="128.7" stroke="#333" stroke-width="0.8"/>
<line x1="555.34" y1="130.1" x2="555.34" y2="127.9" stroke="#333" stroke-width="0.8"/>
<text x="555.74" y="140.4" text-anchor="middle" font-size="10.9">60</text>
<line x1="570.5" y1="130.1" x2="570.5" y2="128.7" stroke="#333" stroke-width="0.8"/>
<line x1="585.66" y1="130.1" x2="585.66" y2="127.9" stroke="#333" stroke-width="0.8"/>
<text x="586.06" y="140.4" text-anchor="middle" font-size="10.9">80</text>
<line x1="600.82" y1="130.1" x2="600.82" y2="128.7" stroke="#333" stroke-width="0.8"/>
<line x1="615.98" y1="130.1" x2="615.98" y2="127.9" stroke="#333" stroke-width="0.8"/>
<text x="616.38" y="140.4" text-anchor="middle" font-size="10.9">100</text>
<line x1="631.14" y1="130.1" x2="631.14" y2="128.7" stroke="#333" stroke-width="0.8"/>
<line x1="646.3" y1="130.1" x2="646.3" y2="127.9" stroke="#333" stroke-width="0.8"/>
<text x="646.7" y="140.4" text-anchor="middle" font-size="10.9">120</text>
<text x="0.6" y="251.4" font-size="15.15">(a) The variation of critical temperature with pore size</text>
<text x="523" y="251.4" text-anchor="middle" font-size="15.15">(b) The change diagram of critical pressure with pore</text>
<text x="523.5" y="276.6" text-anchor="middle" font-size="15.15">size</text>
</svg>
</body></html>
